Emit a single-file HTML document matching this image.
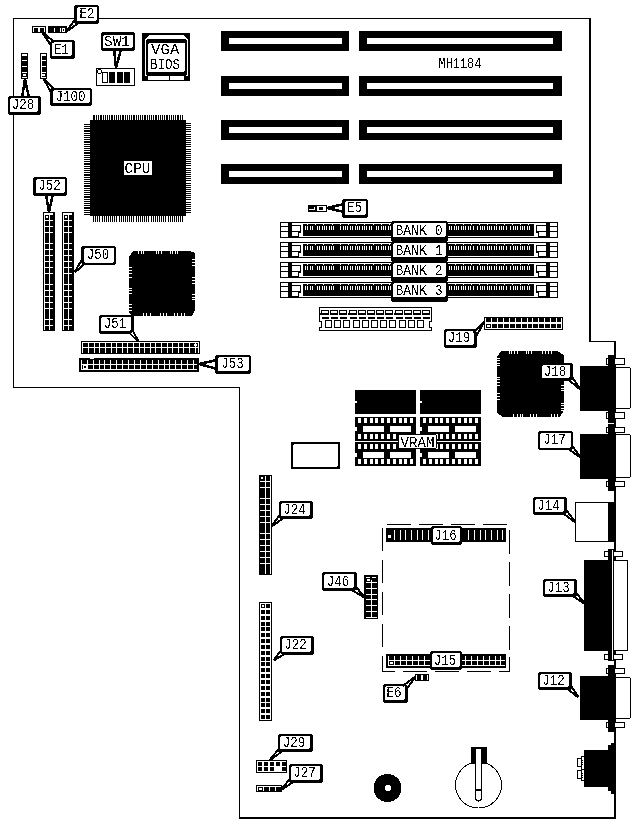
<!DOCTYPE html>
<html><head><meta charset="utf-8"><style>
html,body{margin:0;padding:0;background:#fff;overflow:hidden;}
svg{display:block;will-change:transform;}
text{font-family:"Liberation Mono",monospace;}
</style></head><body>
<svg width="634" height="823" viewBox="0 0 634 823" shape-rendering="crispEdges">
<defs><filter id="th" x="-10%" y="-20%" width="120%" height="140%"><feComponentTransfer><feFuncA type="discrete" tableValues="0 1"/></feComponentTransfer></filter></defs>
<rect x="0" y="0" width="634" height="823" fill="#fff"/>
<rect x="13" y="18" width="578" height="1" fill="#000" />
<rect x="13" y="18" width="1" height="370" fill="#000" />
<rect x="589" y="18" width="2" height="324" fill="#000" />
<rect x="589" y="341" width="27" height="1" fill="#000" />
<rect x="614" y="341" width="2" height="478" fill="#000" />
<rect x="13" y="387" width="227" height="1" fill="#000" />
<rect x="239" y="387" width="1" height="432" fill="#000" />
<rect x="239" y="817" width="377" height="2" fill="#000" />
<rect x="221" y="31" width="128" height="20" fill="#000" />
<rect x="229" y="38" width="113" height="6" fill="#fff" />
<rect x="359" y="31" width="203" height="20" fill="#000" />
<rect x="367" y="38" width="186" height="6" fill="#fff" />
<rect x="221" y="76" width="128" height="20" fill="#000" />
<rect x="229" y="83" width="113" height="6" fill="#fff" />
<rect x="359" y="76" width="203" height="20" fill="#000" />
<rect x="367" y="83" width="186" height="6" fill="#fff" />
<rect x="221" y="120" width="128" height="20" fill="#000" />
<rect x="229" y="127" width="113" height="6" fill="#fff" />
<rect x="359" y="120" width="203" height="20" fill="#000" />
<rect x="367" y="127" width="186" height="6" fill="#fff" />
<rect x="221" y="164" width="128" height="20" fill="#000" />
<rect x="229" y="171" width="113" height="6" fill="#fff" />
<rect x="359" y="164" width="203" height="20" fill="#000" />
<rect x="367" y="171" width="186" height="6" fill="#fff" />
<text x="438.5" y="67.5" font-size="14" text-anchor="start" fill="#000" filter="url(#th)" textLength="42.8" lengthAdjust="spacingAndGlyphs" >MH1184</text>
<rect x="142" y="33" width="48" height="48" fill="#000" />
<polygon points="149.00,35.00 183.00,35.00 188.00,39.00 188.00,76.00 145.00,76.00 145.00,39.00" fill="#fff" stroke="none" stroke-width="1" />
<rect x="146" y="39" width="41" height="37" rx="3" fill="#000"/>
<rect x="148" y="43" width="37" height="29" rx="2" fill="#fff"/>
<rect x="148" y="76" width="21" height="4" fill="#fff" />
<rect x="170" y="76" width="14" height="4" fill="#fff" />
<text x="151" y="54" font-size="15" text-anchor="start" fill="#000" filter="url(#th)" textLength="28.4" lengthAdjust="spacingAndGlyphs" >VGA</text>
<text x="150" y="69" font-size="15" text-anchor="start" fill="#000" filter="url(#th)" textLength="30" lengthAdjust="spacingAndGlyphs" >BIOS</text>
<rect x="96" y="68" width="39" height="18" fill="#000" />
<rect x="97" y="69" width="37" height="16" fill="#fff" />
<circle cx="99.5" cy="71.5" r="2" fill="#fff" stroke="#000" stroke-width="1"/>
<rect x="102" y="72" width="6" height="11" fill="#000" />
<rect x="103" y="73" width="4" height="9" fill="#fff" />
<rect x="109" y="72" width="6" height="11" fill="#000" />
<rect x="117" y="72" width="6" height="11" fill="#000" />
<rect x="124" y="72" width="6" height="11" fill="#000" />
<rect x="32" y="26" width="14" height="7" fill="#000" />
<rect x="33" y="27" width="12" height="5" fill="#fff" />
<rect x="34" y="28" width="4" height="4" fill="#000" />
<rect x="40" y="28" width="4" height="4" fill="#000" />
<rect x="48" y="26" width="19" height="7" fill="#000" />
<rect x="54" y="28" width="1" height="4" fill="#fff" />
<rect x="60" y="28" width="1" height="4" fill="#fff" />
<rect x="62" y="28" width="3" height="4" fill="#fff" />
<rect x="63" y="29" width="1" height="2" fill="#000" />
<rect x="21" y="53" width="7" height="26" fill="#000" />
<rect x="22" y="54" width="5" height="24" fill="#000" />
<rect x="22" y="54" width="5" height="2" fill="#fff" />
<rect x="22" y="60" width="5" height="1" fill="#fff" />
<rect x="22" y="66" width="5" height="1" fill="#fff" />
<rect x="22" y="72" width="5" height="1" fill="#fff" />
<rect x="23" y="74" width="3" height="2" fill="#fff" />
<rect x="22" y="77" width="5" height="1" fill="#fff" />
<rect x="40" y="53" width="7" height="26" fill="#000" />
<rect x="41" y="54" width="5" height="24" fill="#000" />
<rect x="41" y="54" width="5" height="2" fill="#fff" />
<rect x="41" y="60" width="5" height="1" fill="#fff" />
<rect x="41" y="66" width="5" height="1" fill="#fff" />
<rect x="41" y="72" width="5" height="1" fill="#fff" />
<rect x="42" y="74" width="3" height="2" fill="#fff" />
<rect x="41" y="77" width="5" height="1" fill="#fff" />
<rect x="41" y="54" width="1" height="24" fill="#fff" />
<rect x="90" y="120" width="96" height="96" fill="#000" />
<rect x="93" y="115" width="90" height="5" fill="#000" />
<rect x="95" y="115" width="1" height="5" fill="#fff" />
<rect x="97" y="115" width="1" height="5" fill="#fff" />
<rect x="99" y="115" width="1" height="5" fill="#fff" />
<rect x="102" y="115" width="1" height="5" fill="#fff" />
<rect x="104" y="115" width="1" height="5" fill="#fff" />
<rect x="106" y="115" width="1" height="5" fill="#fff" />
<rect x="108" y="115" width="1" height="5" fill="#fff" />
<rect x="110" y="115" width="1" height="5" fill="#fff" />
<rect x="113" y="115" width="1" height="5" fill="#fff" />
<rect x="115" y="115" width="1" height="5" fill="#fff" />
<rect x="117" y="115" width="1" height="5" fill="#fff" />
<rect x="119" y="115" width="1" height="5" fill="#fff" />
<rect x="121" y="115" width="1" height="5" fill="#fff" />
<rect x="124" y="115" width="1" height="5" fill="#fff" />
<rect x="126" y="115" width="1" height="5" fill="#fff" />
<rect x="128" y="115" width="1" height="5" fill="#fff" />
<rect x="130" y="115" width="1" height="5" fill="#fff" />
<rect x="132" y="115" width="1" height="5" fill="#fff" />
<rect x="135" y="115" width="1" height="5" fill="#fff" />
<rect x="137" y="115" width="1" height="5" fill="#fff" />
<rect x="139" y="115" width="1" height="5" fill="#fff" />
<rect x="141" y="115" width="1" height="5" fill="#fff" />
<rect x="143" y="115" width="1" height="5" fill="#fff" />
<rect x="146" y="115" width="1" height="5" fill="#fff" />
<rect x="148" y="115" width="1" height="5" fill="#fff" />
<rect x="150" y="115" width="1" height="5" fill="#fff" />
<rect x="152" y="115" width="1" height="5" fill="#fff" />
<rect x="154" y="115" width="1" height="5" fill="#fff" />
<rect x="157" y="115" width="1" height="5" fill="#fff" />
<rect x="159" y="115" width="1" height="5" fill="#fff" />
<rect x="161" y="115" width="1" height="5" fill="#fff" />
<rect x="163" y="115" width="1" height="5" fill="#fff" />
<rect x="165" y="115" width="1" height="5" fill="#fff" />
<rect x="168" y="115" width="1" height="5" fill="#fff" />
<rect x="170" y="115" width="1" height="5" fill="#fff" />
<rect x="172" y="115" width="1" height="5" fill="#fff" />
<rect x="174" y="115" width="1" height="5" fill="#fff" />
<rect x="176" y="115" width="1" height="5" fill="#fff" />
<rect x="179" y="115" width="1" height="5" fill="#fff" />
<rect x="181" y="115" width="1" height="5" fill="#fff" />
<rect x="84" y="124" width="6" height="91" fill="#000" />
<rect x="84" y="125" width="6" height="1" fill="#fff" />
<rect x="84" y="127" width="6" height="1" fill="#fff" />
<rect x="84" y="129" width="6" height="1" fill="#fff" />
<rect x="84" y="132" width="6" height="1" fill="#fff" />
<rect x="84" y="134" width="6" height="1" fill="#fff" />
<rect x="84" y="136" width="6" height="1" fill="#fff" />
<rect x="84" y="138" width="6" height="1" fill="#fff" />
<rect x="84" y="140" width="6" height="1" fill="#fff" />
<rect x="84" y="143" width="6" height="1" fill="#fff" />
<rect x="84" y="145" width="6" height="1" fill="#fff" />
<rect x="84" y="147" width="6" height="1" fill="#fff" />
<rect x="84" y="149" width="6" height="1" fill="#fff" />
<rect x="84" y="151" width="6" height="1" fill="#fff" />
<rect x="84" y="154" width="6" height="1" fill="#fff" />
<rect x="84" y="156" width="6" height="1" fill="#fff" />
<rect x="84" y="158" width="6" height="1" fill="#fff" />
<rect x="84" y="160" width="6" height="1" fill="#fff" />
<rect x="84" y="162" width="6" height="1" fill="#fff" />
<rect x="84" y="165" width="6" height="1" fill="#fff" />
<rect x="84" y="167" width="6" height="1" fill="#fff" />
<rect x="84" y="169" width="6" height="1" fill="#fff" />
<rect x="84" y="171" width="6" height="1" fill="#fff" />
<rect x="84" y="173" width="6" height="1" fill="#fff" />
<rect x="84" y="176" width="6" height="1" fill="#fff" />
<rect x="84" y="178" width="6" height="1" fill="#fff" />
<rect x="84" y="180" width="6" height="1" fill="#fff" />
<rect x="84" y="182" width="6" height="1" fill="#fff" />
<rect x="84" y="184" width="6" height="1" fill="#fff" />
<rect x="84" y="187" width="6" height="1" fill="#fff" />
<rect x="84" y="189" width="6" height="1" fill="#fff" />
<rect x="84" y="191" width="6" height="1" fill="#fff" />
<rect x="84" y="193" width="6" height="1" fill="#fff" />
<rect x="84" y="195" width="6" height="1" fill="#fff" />
<rect x="84" y="198" width="6" height="1" fill="#fff" />
<rect x="84" y="200" width="6" height="1" fill="#fff" />
<rect x="84" y="202" width="6" height="1" fill="#fff" />
<rect x="84" y="204" width="6" height="1" fill="#fff" />
<rect x="84" y="206" width="6" height="1" fill="#fff" />
<rect x="84" y="209" width="6" height="1" fill="#fff" />
<rect x="84" y="211" width="6" height="1" fill="#fff" />
<rect x="84" y="213" width="6" height="1" fill="#fff" />
<rect x="186" y="123" width="5" height="1" fill="#000" />
<rect x="186" y="125" width="5" height="1" fill="#000" />
<rect x="186" y="127" width="5" height="1" fill="#000" />
<rect x="186" y="129" width="5" height="1" fill="#000" />
<rect x="186" y="131" width="5" height="1" fill="#000" />
<rect x="186" y="134" width="5" height="1" fill="#000" />
<rect x="186" y="136" width="5" height="1" fill="#000" />
<rect x="186" y="138" width="5" height="1" fill="#000" />
<rect x="186" y="140" width="5" height="1" fill="#000" />
<rect x="186" y="142" width="5" height="1" fill="#000" />
<rect x="186" y="144" width="5" height="1" fill="#000" />
<rect x="186" y="146" width="5" height="1" fill="#000" />
<rect x="186" y="149" width="5" height="1" fill="#000" />
<rect x="186" y="151" width="5" height="1" fill="#000" />
<rect x="186" y="153" width="5" height="1" fill="#000" />
<rect x="186" y="155" width="5" height="1" fill="#000" />
<rect x="186" y="157" width="5" height="1" fill="#000" />
<rect x="186" y="159" width="5" height="1" fill="#000" />
<rect x="186" y="161" width="5" height="1" fill="#000" />
<rect x="186" y="163" width="5" height="1" fill="#000" />
<rect x="186" y="165" width="5" height="1" fill="#000" />
<rect x="186" y="168" width="5" height="1" fill="#000" />
<rect x="186" y="170" width="5" height="1" fill="#000" />
<rect x="186" y="172" width="5" height="1" fill="#000" />
<rect x="186" y="174" width="5" height="1" fill="#000" />
<rect x="186" y="176" width="5" height="1" fill="#000" />
<rect x="186" y="178" width="5" height="1" fill="#000" />
<rect x="186" y="180" width="5" height="1" fill="#000" />
<rect x="186" y="183" width="5" height="1" fill="#000" />
<rect x="186" y="185" width="5" height="1" fill="#000" />
<rect x="186" y="187" width="5" height="1" fill="#000" />
<rect x="186" y="189" width="5" height="1" fill="#000" />
<rect x="186" y="191" width="5" height="1" fill="#000" />
<rect x="186" y="193" width="5" height="1" fill="#000" />
<rect x="186" y="195" width="5" height="1" fill="#000" />
<rect x="186" y="197" width="5" height="1" fill="#000" />
<rect x="186" y="199" width="5" height="1" fill="#000" />
<rect x="186" y="202" width="5" height="1" fill="#000" />
<rect x="186" y="204" width="5" height="1" fill="#000" />
<rect x="186" y="206" width="5" height="1" fill="#000" />
<rect x="186" y="208" width="5" height="1" fill="#000" />
<rect x="186" y="210" width="5" height="1" fill="#000" />
<rect x="186" y="212" width="5" height="1" fill="#000" />
<rect x="93" y="216" width="1" height="6" fill="#000" />
<rect x="95" y="216" width="1" height="6" fill="#000" />
<rect x="97" y="216" width="1" height="6" fill="#000" />
<rect x="99" y="216" width="1" height="6" fill="#000" />
<rect x="102" y="216" width="1" height="6" fill="#000" />
<rect x="104" y="216" width="1" height="6" fill="#000" />
<rect x="106" y="216" width="1" height="6" fill="#000" />
<rect x="108" y="216" width="1" height="6" fill="#000" />
<rect x="110" y="216" width="1" height="6" fill="#000" />
<rect x="112" y="216" width="1" height="6" fill="#000" />
<rect x="114" y="216" width="1" height="6" fill="#000" />
<rect x="116" y="216" width="1" height="6" fill="#000" />
<rect x="119" y="216" width="1" height="6" fill="#000" />
<rect x="121" y="216" width="1" height="6" fill="#000" />
<rect x="123" y="216" width="1" height="6" fill="#000" />
<rect x="125" y="216" width="1" height="6" fill="#000" />
<rect x="127" y="216" width="1" height="6" fill="#000" />
<rect x="129" y="216" width="1" height="6" fill="#000" />
<rect x="131" y="216" width="1" height="6" fill="#000" />
<rect x="133" y="216" width="1" height="6" fill="#000" />
<rect x="136" y="216" width="1" height="6" fill="#000" />
<rect x="138" y="216" width="1" height="6" fill="#000" />
<rect x="140" y="216" width="1" height="6" fill="#000" />
<rect x="142" y="216" width="1" height="6" fill="#000" />
<rect x="144" y="216" width="1" height="6" fill="#000" />
<rect x="146" y="216" width="1" height="6" fill="#000" />
<rect x="148" y="216" width="1" height="6" fill="#000" />
<rect x="151" y="216" width="1" height="6" fill="#000" />
<rect x="153" y="216" width="1" height="6" fill="#000" />
<rect x="155" y="216" width="1" height="6" fill="#000" />
<rect x="157" y="216" width="1" height="6" fill="#000" />
<rect x="159" y="216" width="1" height="6" fill="#000" />
<rect x="161" y="216" width="1" height="6" fill="#000" />
<rect x="163" y="216" width="1" height="6" fill="#000" />
<rect x="165" y="216" width="1" height="6" fill="#000" />
<rect x="168" y="216" width="1" height="6" fill="#000" />
<rect x="170" y="216" width="1" height="6" fill="#000" />
<rect x="172" y="216" width="1" height="6" fill="#000" />
<rect x="174" y="216" width="1" height="6" fill="#000" />
<rect x="176" y="216" width="1" height="6" fill="#000" />
<rect x="178" y="216" width="1" height="6" fill="#000" />
<rect x="180" y="216" width="1" height="6" fill="#000" />
<rect x="182" y="216" width="1" height="6" fill="#000" />
<rect x="124" y="161" width="28" height="14" fill="#fff" />
<text x="124.5" y="173" font-size="15" text-anchor="start" fill="#000" filter="url(#th)" textLength="26" lengthAdjust="spacingAndGlyphs" >CPU</text>
<rect x="43" y="212" width="12" height="119" fill="#000" />
<rect x="44" y="213" width="10" height="117" fill="#fff" />
<rect x="45" y="215" width="4" height="5" fill="#000" />
<rect x="50" y="215" width="4" height="5" fill="#000" />
<rect x="45" y="221" width="4" height="5" fill="#000" />
<rect x="50" y="221" width="4" height="5" fill="#000" />
<rect x="45" y="227" width="4" height="5" fill="#000" />
<rect x="50" y="227" width="4" height="5" fill="#000" />
<rect x="45" y="233" width="4" height="5" fill="#000" />
<rect x="50" y="233" width="4" height="5" fill="#000" />
<rect x="45" y="238" width="4" height="5" fill="#000" />
<rect x="50" y="238" width="4" height="5" fill="#000" />
<rect x="45" y="244" width="4" height="5" fill="#000" />
<rect x="50" y="244" width="4" height="5" fill="#000" />
<rect x="45" y="250" width="4" height="5" fill="#000" />
<rect x="50" y="250" width="4" height="5" fill="#000" />
<rect x="45" y="256" width="4" height="5" fill="#000" />
<rect x="50" y="256" width="4" height="5" fill="#000" />
<rect x="45" y="262" width="4" height="5" fill="#000" />
<rect x="50" y="262" width="4" height="5" fill="#000" />
<rect x="45" y="268" width="4" height="5" fill="#000" />
<rect x="50" y="268" width="4" height="5" fill="#000" />
<rect x="45" y="274" width="4" height="5" fill="#000" />
<rect x="50" y="274" width="4" height="5" fill="#000" />
<rect x="45" y="279" width="4" height="5" fill="#000" />
<rect x="50" y="279" width="4" height="5" fill="#000" />
<rect x="45" y="285" width="4" height="5" fill="#000" />
<rect x="50" y="285" width="4" height="5" fill="#000" />
<rect x="45" y="291" width="4" height="5" fill="#000" />
<rect x="50" y="291" width="4" height="5" fill="#000" />
<rect x="45" y="297" width="4" height="5" fill="#000" />
<rect x="50" y="297" width="4" height="5" fill="#000" />
<rect x="45" y="303" width="4" height="5" fill="#000" />
<rect x="50" y="303" width="4" height="5" fill="#000" />
<rect x="45" y="309" width="4" height="5" fill="#000" />
<rect x="50" y="309" width="4" height="5" fill="#000" />
<rect x="45" y="314" width="4" height="5" fill="#000" />
<rect x="50" y="314" width="4" height="5" fill="#000" />
<rect x="45" y="320" width="4" height="5" fill="#000" />
<rect x="50" y="320" width="4" height="5" fill="#000" />
<rect x="45" y="326" width="4" height="4" fill="#000" />
<rect x="50" y="326" width="4" height="4" fill="#000" />
<rect x="53" y="213" width="1" height="117" fill="#000" />
<rect x="54" y="213" width="0" height="117" fill="#000" />
<rect x="46" y="216" width="2" height="2" fill="#fff" />
<rect x="62" y="212" width="12" height="119" fill="#000" />
<rect x="63" y="213" width="10" height="117" fill="#fff" />
<rect x="64" y="215" width="4" height="5" fill="#000" />
<rect x="69" y="215" width="4" height="5" fill="#000" />
<rect x="64" y="221" width="4" height="5" fill="#000" />
<rect x="69" y="221" width="4" height="5" fill="#000" />
<rect x="64" y="227" width="4" height="5" fill="#000" />
<rect x="69" y="227" width="4" height="5" fill="#000" />
<rect x="64" y="233" width="4" height="5" fill="#000" />
<rect x="69" y="233" width="4" height="5" fill="#000" />
<rect x="64" y="238" width="4" height="5" fill="#000" />
<rect x="69" y="238" width="4" height="5" fill="#000" />
<rect x="64" y="244" width="4" height="5" fill="#000" />
<rect x="69" y="244" width="4" height="5" fill="#000" />
<rect x="64" y="250" width="4" height="5" fill="#000" />
<rect x="69" y="250" width="4" height="5" fill="#000" />
<rect x="64" y="256" width="4" height="5" fill="#000" />
<rect x="69" y="256" width="4" height="5" fill="#000" />
<rect x="64" y="262" width="4" height="5" fill="#000" />
<rect x="69" y="262" width="4" height="5" fill="#000" />
<rect x="64" y="268" width="4" height="5" fill="#000" />
<rect x="69" y="268" width="4" height="5" fill="#000" />
<rect x="64" y="274" width="4" height="5" fill="#000" />
<rect x="69" y="274" width="4" height="5" fill="#000" />
<rect x="64" y="279" width="4" height="5" fill="#000" />
<rect x="69" y="279" width="4" height="5" fill="#000" />
<rect x="64" y="285" width="4" height="5" fill="#000" />
<rect x="69" y="285" width="4" height="5" fill="#000" />
<rect x="64" y="291" width="4" height="5" fill="#000" />
<rect x="69" y="291" width="4" height="5" fill="#000" />
<rect x="64" y="297" width="4" height="5" fill="#000" />
<rect x="69" y="297" width="4" height="5" fill="#000" />
<rect x="64" y="303" width="4" height="5" fill="#000" />
<rect x="69" y="303" width="4" height="5" fill="#000" />
<rect x="64" y="309" width="4" height="5" fill="#000" />
<rect x="69" y="309" width="4" height="5" fill="#000" />
<rect x="64" y="314" width="4" height="5" fill="#000" />
<rect x="69" y="314" width="4" height="5" fill="#000" />
<rect x="64" y="320" width="4" height="5" fill="#000" />
<rect x="69" y="320" width="4" height="5" fill="#000" />
<rect x="64" y="326" width="4" height="4" fill="#000" />
<rect x="69" y="326" width="4" height="4" fill="#000" />
<rect x="72" y="213" width="1" height="117" fill="#000" />
<rect x="73" y="213" width="0" height="117" fill="#000" />
<rect x="65" y="216" width="2" height="2" fill="#fff" />
<polygon points="133.00,251.00 189.00,251.00 195.00,253.00 195.00,310.00 192.00,316.00 132.00,316.00 129.00,313.00 129.00,257.00" fill="#000" stroke="none" stroke-width="1" />
<rect x="138" y="251" width="1" height="3" fill="#fff" />
<rect x="141" y="251" width="1" height="3" fill="#fff" />
<rect x="143" y="251" width="1" height="3" fill="#fff" />
<rect x="156" y="251" width="1" height="3" fill="#fff" />
<rect x="158" y="251" width="1" height="3" fill="#fff" />
<rect x="161" y="251" width="1" height="3" fill="#fff" />
<rect x="170" y="251" width="1" height="3" fill="#fff" />
<rect x="172" y="251" width="1" height="3" fill="#fff" />
<rect x="175" y="251" width="1" height="3" fill="#fff" />
<rect x="177" y="251" width="1" height="3" fill="#fff" />
<rect x="143" y="313" width="1" height="3" fill="#fff" />
<rect x="146" y="313" width="1" height="3" fill="#fff" />
<rect x="150" y="313" width="1" height="3" fill="#fff" />
<rect x="160" y="313" width="1" height="3" fill="#fff" />
<rect x="163" y="313" width="1" height="3" fill="#fff" />
<rect x="166" y="313" width="1" height="3" fill="#fff" />
<rect x="174" y="313" width="1" height="3" fill="#fff" />
<rect x="177" y="313" width="1" height="3" fill="#fff" />
<rect x="181" y="313" width="1" height="3" fill="#fff" />
<rect x="184" y="313" width="1" height="3" fill="#fff" />
<rect x="129" y="267" width="3" height="1" fill="#fff" />
<rect x="129" y="270" width="3" height="1" fill="#fff" />
<rect x="129" y="273" width="3" height="1" fill="#fff" />
<rect x="129" y="277" width="3" height="1" fill="#fff" />
<rect x="129" y="288" width="3" height="1" fill="#fff" />
<rect x="129" y="290" width="3" height="1" fill="#fff" />
<rect x="129" y="293" width="3" height="1" fill="#fff" />
<rect x="129" y="304" width="3" height="1" fill="#fff" />
<rect x="129" y="307" width="3" height="1" fill="#fff" />
<rect x="129" y="310" width="3" height="1" fill="#fff" />
<rect x="192" y="259" width="3" height="1" fill="#fff" />
<rect x="192" y="262" width="3" height="1" fill="#fff" />
<rect x="192" y="265" width="3" height="1" fill="#fff" />
<rect x="192" y="277" width="3" height="1" fill="#fff" />
<rect x="192" y="280" width="3" height="1" fill="#fff" />
<rect x="192" y="283" width="3" height="1" fill="#fff" />
<rect x="192" y="294" width="3" height="1" fill="#fff" />
<rect x="192" y="297" width="3" height="1" fill="#fff" />
<rect x="192" y="299" width="3" height="1" fill="#fff" />
<rect x="81" y="341" width="119" height="13" fill="#000" />
<rect x="82" y="342" width="117" height="11" fill="#fff" />
<rect x="83" y="343" width="115" height="10" fill="#000" />
<rect x="83" y="347" width="115" height="1" fill="#fff" />
<rect x="88" y="343" width="1" height="10" fill="#fff" />
<rect x="94" y="343" width="1" height="10" fill="#fff" />
<rect x="99" y="343" width="1" height="10" fill="#fff" />
<rect x="105" y="343" width="1" height="10" fill="#fff" />
<rect x="111" y="343" width="1" height="10" fill="#fff" />
<rect x="116" y="343" width="1" height="10" fill="#fff" />
<rect x="122" y="343" width="1" height="10" fill="#fff" />
<rect x="127" y="343" width="1" height="10" fill="#fff" />
<rect x="133" y="343" width="1" height="10" fill="#fff" />
<rect x="139" y="343" width="1" height="10" fill="#fff" />
<rect x="144" y="343" width="1" height="10" fill="#fff" />
<rect x="150" y="343" width="1" height="10" fill="#fff" />
<rect x="155" y="343" width="1" height="10" fill="#fff" />
<rect x="161" y="343" width="1" height="10" fill="#fff" />
<rect x="167" y="343" width="1" height="10" fill="#fff" />
<rect x="172" y="343" width="1" height="10" fill="#fff" />
<rect x="178" y="343" width="1" height="10" fill="#fff" />
<rect x="183" y="343" width="1" height="10" fill="#fff" />
<rect x="189" y="343" width="1" height="10" fill="#fff" />
<rect x="195" y="343" width="1" height="10" fill="#fff" />
<rect x="194" y="344" width="3" height="2" fill="#fff" />
<rect x="79" y="358" width="120" height="14" fill="#000" />
<rect x="81" y="360" width="116" height="10" fill="#fff" />
<rect x="82" y="360" width="115" height="9" fill="#000" />
<rect x="82" y="364" width="115" height="1" fill="#fff" />
<rect x="87" y="360" width="1" height="9" fill="#fff" />
<rect x="93" y="360" width="1" height="9" fill="#fff" />
<rect x="99" y="360" width="1" height="9" fill="#fff" />
<rect x="104" y="360" width="1" height="9" fill="#fff" />
<rect x="110" y="360" width="1" height="9" fill="#fff" />
<rect x="116" y="360" width="1" height="9" fill="#fff" />
<rect x="122" y="360" width="1" height="9" fill="#fff" />
<rect x="128" y="360" width="1" height="9" fill="#fff" />
<rect x="134" y="360" width="1" height="9" fill="#fff" />
<rect x="140" y="360" width="1" height="9" fill="#fff" />
<rect x="146" y="360" width="1" height="9" fill="#fff" />
<rect x="152" y="360" width="1" height="9" fill="#fff" />
<rect x="158" y="360" width="1" height="9" fill="#fff" />
<rect x="164" y="360" width="1" height="9" fill="#fff" />
<rect x="169" y="360" width="1" height="9" fill="#fff" />
<rect x="175" y="360" width="1" height="9" fill="#fff" />
<rect x="181" y="360" width="1" height="9" fill="#fff" />
<rect x="187" y="360" width="1" height="9" fill="#fff" />
<rect x="193" y="360" width="1" height="9" fill="#fff" />
<rect x="90" y="358" width="4" height="1" fill="#fff" />
<rect x="83" y="365" width="4" height="4" fill="#fff" />
<rect x="84" y="366" width="2" height="2" fill="#000" />
<rect x="81" y="361" width="1" height="3" fill="#fff" />
<rect x="308" y="205" width="19" height="7" fill="#000" />
<rect x="309" y="209" width="5" height="1" fill="#fff" />
<rect x="314" y="207" width="1" height="3" fill="#fff" />
<rect x="317" y="206" width="9" height="5" fill="#fff" />
<rect x="319" y="207" width="4" height="3" fill="#000" />
<rect x="280" y="222" width="278" height="16" fill="#000" />
<rect x="281" y="223" width="276" height="14" fill="#fff" />
<rect x="281" y="226" width="7" height="1" fill="#000" />
<rect x="281" y="231" width="7" height="1" fill="#000" />
<rect x="288" y="223" width="4" height="15" fill="#000" />
<rect x="292" y="225" width="9" height="8" fill="#000" />
<rect x="292" y="226" width="8" height="5" fill="#fff" />
<rect x="292" y="231" width="7" height="6" fill="#000" />
<rect x="292" y="232" width="6" height="4" fill="#fff" />
<rect x="550" y="226" width="7" height="1" fill="#000" />
<rect x="550" y="231" width="7" height="1" fill="#000" />
<rect x="546" y="223" width="4" height="15" fill="#000" />
<rect x="536" y="225" width="10" height="8" fill="#000" />
<rect x="537" y="226" width="9" height="5" fill="#fff" />
<rect x="538" y="231" width="8" height="6" fill="#000" />
<rect x="539" y="232" width="7" height="4" fill="#fff" />
<rect x="303" y="224" width="231" height="12" fill="#000" />
<rect x="305" y="226" width="1" height="4" fill="#fff" />
<rect x="307" y="226" width="1" height="4" fill="#fff" />
<rect x="310" y="226" width="1" height="4" fill="#fff" />
<rect x="312" y="226" width="1" height="4" fill="#fff" />
<rect x="317" y="226" width="1" height="4" fill="#fff" />
<rect x="319" y="226" width="1" height="4" fill="#fff" />
<rect x="322" y="226" width="1" height="4" fill="#fff" />
<rect x="324" y="226" width="1" height="4" fill="#fff" />
<rect x="326" y="226" width="1" height="4" fill="#fff" />
<rect x="329" y="226" width="1" height="4" fill="#fff" />
<rect x="331" y="226" width="1" height="4" fill="#fff" />
<rect x="333" y="226" width="1" height="4" fill="#fff" />
<rect x="340" y="226" width="1" height="4" fill="#fff" />
<rect x="343" y="226" width="1" height="4" fill="#fff" />
<rect x="345" y="226" width="1" height="4" fill="#fff" />
<rect x="347" y="226" width="1" height="4" fill="#fff" />
<rect x="350" y="226" width="1" height="4" fill="#fff" />
<rect x="352" y="226" width="1" height="4" fill="#fff" />
<rect x="355" y="226" width="1" height="4" fill="#fff" />
<rect x="357" y="226" width="1" height="4" fill="#fff" />
<rect x="359" y="226" width="1" height="4" fill="#fff" />
<rect x="362" y="226" width="1" height="4" fill="#fff" />
<rect x="364" y="226" width="1" height="4" fill="#fff" />
<rect x="366" y="226" width="1" height="4" fill="#fff" />
<rect x="369" y="226" width="1" height="4" fill="#fff" />
<rect x="371" y="226" width="1" height="4" fill="#fff" />
<rect x="376" y="226" width="1" height="4" fill="#fff" />
<rect x="378" y="226" width="1" height="4" fill="#fff" />
<rect x="381" y="226" width="1" height="4" fill="#fff" />
<rect x="383" y="226" width="1" height="4" fill="#fff" />
<rect x="385" y="226" width="1" height="4" fill="#fff" />
<rect x="388" y="226" width="1" height="4" fill="#fff" />
<rect x="390" y="226" width="1" height="4" fill="#fff" />
<rect x="392" y="226" width="1" height="4" fill="#fff" />
<rect x="395" y="226" width="1" height="4" fill="#fff" />
<rect x="397" y="226" width="1" height="4" fill="#fff" />
<rect x="399" y="226" width="1" height="4" fill="#fff" />
<rect x="402" y="226" width="1" height="4" fill="#fff" />
<rect x="404" y="226" width="1" height="4" fill="#fff" />
<rect x="406" y="226" width="1" height="4" fill="#fff" />
<rect x="411" y="226" width="1" height="4" fill="#fff" />
<rect x="414" y="226" width="1" height="4" fill="#fff" />
<rect x="416" y="226" width="1" height="4" fill="#fff" />
<rect x="418" y="226" width="1" height="4" fill="#fff" />
<rect x="421" y="226" width="1" height="4" fill="#fff" />
<rect x="423" y="226" width="1" height="4" fill="#fff" />
<rect x="425" y="226" width="1" height="4" fill="#fff" />
<rect x="428" y="226" width="1" height="4" fill="#fff" />
<rect x="430" y="226" width="1" height="4" fill="#fff" />
<rect x="432" y="226" width="1" height="4" fill="#fff" />
<rect x="435" y="226" width="1" height="4" fill="#fff" />
<rect x="437" y="226" width="1" height="4" fill="#fff" />
<rect x="440" y="226" width="1" height="4" fill="#fff" />
<rect x="444" y="226" width="1" height="4" fill="#fff" />
<rect x="447" y="226" width="1" height="4" fill="#fff" />
<rect x="449" y="226" width="1" height="4" fill="#fff" />
<rect x="451" y="226" width="1" height="4" fill="#fff" />
<rect x="454" y="226" width="1" height="4" fill="#fff" />
<rect x="456" y="226" width="1" height="4" fill="#fff" />
<rect x="458" y="226" width="1" height="4" fill="#fff" />
<rect x="461" y="226" width="1" height="4" fill="#fff" />
<rect x="463" y="226" width="1" height="4" fill="#fff" />
<rect x="465" y="226" width="1" height="4" fill="#fff" />
<rect x="468" y="226" width="1" height="4" fill="#fff" />
<rect x="470" y="226" width="1" height="4" fill="#fff" />
<rect x="473" y="226" width="1" height="4" fill="#fff" />
<rect x="477" y="226" width="1" height="4" fill="#fff" />
<rect x="480" y="226" width="1" height="4" fill="#fff" />
<rect x="482" y="226" width="1" height="4" fill="#fff" />
<rect x="484" y="226" width="1" height="4" fill="#fff" />
<rect x="487" y="226" width="1" height="4" fill="#fff" />
<rect x="489" y="226" width="1" height="4" fill="#fff" />
<rect x="491" y="226" width="1" height="4" fill="#fff" />
<rect x="494" y="226" width="1" height="4" fill="#fff" />
<rect x="496" y="226" width="1" height="4" fill="#fff" />
<rect x="499" y="226" width="1" height="4" fill="#fff" />
<rect x="501" y="226" width="1" height="4" fill="#fff" />
<rect x="503" y="226" width="1" height="4" fill="#fff" />
<rect x="506" y="226" width="1" height="4" fill="#fff" />
<rect x="510" y="226" width="1" height="4" fill="#fff" />
<rect x="513" y="226" width="1" height="4" fill="#fff" />
<rect x="515" y="226" width="1" height="4" fill="#fff" />
<rect x="517" y="226" width="1" height="4" fill="#fff" />
<rect x="520" y="226" width="1" height="4" fill="#fff" />
<rect x="522" y="226" width="1" height="4" fill="#fff" />
<rect x="524" y="226" width="1" height="4" fill="#fff" />
<rect x="527" y="226" width="1" height="4" fill="#fff" />
<rect x="529" y="226" width="1" height="4" fill="#fff" />
<rect x="307" y="224" width="1" height="1" fill="#fff" />
<rect x="315" y="224" width="1" height="1" fill="#fff" />
<rect x="323" y="224" width="1" height="1" fill="#fff" />
<rect x="332" y="224" width="1" height="1" fill="#fff" />
<rect x="340" y="224" width="1" height="1" fill="#fff" />
<rect x="348" y="224" width="1" height="1" fill="#fff" />
<rect x="356" y="224" width="1" height="1" fill="#fff" />
<rect x="364" y="224" width="1" height="1" fill="#fff" />
<rect x="373" y="224" width="1" height="1" fill="#fff" />
<rect x="381" y="224" width="1" height="1" fill="#fff" />
<rect x="389" y="224" width="1" height="1" fill="#fff" />
<rect x="397" y="224" width="1" height="1" fill="#fff" />
<rect x="405" y="224" width="1" height="1" fill="#fff" />
<rect x="414" y="224" width="1" height="1" fill="#fff" />
<rect x="422" y="224" width="1" height="1" fill="#fff" />
<rect x="430" y="224" width="1" height="1" fill="#fff" />
<rect x="438" y="224" width="1" height="1" fill="#fff" />
<rect x="446" y="224" width="1" height="1" fill="#fff" />
<rect x="455" y="224" width="1" height="1" fill="#fff" />
<rect x="463" y="224" width="1" height="1" fill="#fff" />
<rect x="471" y="224" width="1" height="1" fill="#fff" />
<rect x="479" y="224" width="1" height="1" fill="#fff" />
<rect x="487" y="224" width="1" height="1" fill="#fff" />
<rect x="496" y="224" width="1" height="1" fill="#fff" />
<rect x="504" y="224" width="1" height="1" fill="#fff" />
<rect x="512" y="224" width="1" height="1" fill="#fff" />
<rect x="520" y="224" width="1" height="1" fill="#fff" />
<rect x="528" y="224" width="1" height="1" fill="#fff" />
<rect x="280" y="242" width="278" height="16" fill="#000" />
<rect x="281" y="243" width="276" height="14" fill="#fff" />
<rect x="281" y="246" width="7" height="1" fill="#000" />
<rect x="281" y="251" width="7" height="1" fill="#000" />
<rect x="288" y="243" width="4" height="15" fill="#000" />
<rect x="292" y="245" width="9" height="8" fill="#000" />
<rect x="292" y="246" width="8" height="5" fill="#fff" />
<rect x="292" y="251" width="7" height="6" fill="#000" />
<rect x="292" y="252" width="6" height="4" fill="#fff" />
<rect x="550" y="246" width="7" height="1" fill="#000" />
<rect x="550" y="251" width="7" height="1" fill="#000" />
<rect x="546" y="243" width="4" height="15" fill="#000" />
<rect x="536" y="245" width="10" height="8" fill="#000" />
<rect x="537" y="246" width="9" height="5" fill="#fff" />
<rect x="538" y="251" width="8" height="6" fill="#000" />
<rect x="539" y="252" width="7" height="4" fill="#fff" />
<rect x="303" y="244" width="231" height="12" fill="#000" />
<rect x="305" y="246" width="1" height="4" fill="#fff" />
<rect x="307" y="246" width="1" height="4" fill="#fff" />
<rect x="310" y="246" width="1" height="4" fill="#fff" />
<rect x="312" y="246" width="1" height="4" fill="#fff" />
<rect x="317" y="246" width="1" height="4" fill="#fff" />
<rect x="319" y="246" width="1" height="4" fill="#fff" />
<rect x="322" y="246" width="1" height="4" fill="#fff" />
<rect x="324" y="246" width="1" height="4" fill="#fff" />
<rect x="326" y="246" width="1" height="4" fill="#fff" />
<rect x="329" y="246" width="1" height="4" fill="#fff" />
<rect x="331" y="246" width="1" height="4" fill="#fff" />
<rect x="333" y="246" width="1" height="4" fill="#fff" />
<rect x="340" y="246" width="1" height="4" fill="#fff" />
<rect x="343" y="246" width="1" height="4" fill="#fff" />
<rect x="345" y="246" width="1" height="4" fill="#fff" />
<rect x="347" y="246" width="1" height="4" fill="#fff" />
<rect x="350" y="246" width="1" height="4" fill="#fff" />
<rect x="352" y="246" width="1" height="4" fill="#fff" />
<rect x="355" y="246" width="1" height="4" fill="#fff" />
<rect x="357" y="246" width="1" height="4" fill="#fff" />
<rect x="359" y="246" width="1" height="4" fill="#fff" />
<rect x="362" y="246" width="1" height="4" fill="#fff" />
<rect x="364" y="246" width="1" height="4" fill="#fff" />
<rect x="366" y="246" width="1" height="4" fill="#fff" />
<rect x="369" y="246" width="1" height="4" fill="#fff" />
<rect x="371" y="246" width="1" height="4" fill="#fff" />
<rect x="376" y="246" width="1" height="4" fill="#fff" />
<rect x="378" y="246" width="1" height="4" fill="#fff" />
<rect x="381" y="246" width="1" height="4" fill="#fff" />
<rect x="383" y="246" width="1" height="4" fill="#fff" />
<rect x="385" y="246" width="1" height="4" fill="#fff" />
<rect x="388" y="246" width="1" height="4" fill="#fff" />
<rect x="390" y="246" width="1" height="4" fill="#fff" />
<rect x="392" y="246" width="1" height="4" fill="#fff" />
<rect x="395" y="246" width="1" height="4" fill="#fff" />
<rect x="397" y="246" width="1" height="4" fill="#fff" />
<rect x="399" y="246" width="1" height="4" fill="#fff" />
<rect x="402" y="246" width="1" height="4" fill="#fff" />
<rect x="404" y="246" width="1" height="4" fill="#fff" />
<rect x="406" y="246" width="1" height="4" fill="#fff" />
<rect x="411" y="246" width="1" height="4" fill="#fff" />
<rect x="414" y="246" width="1" height="4" fill="#fff" />
<rect x="416" y="246" width="1" height="4" fill="#fff" />
<rect x="418" y="246" width="1" height="4" fill="#fff" />
<rect x="421" y="246" width="1" height="4" fill="#fff" />
<rect x="423" y="246" width="1" height="4" fill="#fff" />
<rect x="425" y="246" width="1" height="4" fill="#fff" />
<rect x="428" y="246" width="1" height="4" fill="#fff" />
<rect x="430" y="246" width="1" height="4" fill="#fff" />
<rect x="432" y="246" width="1" height="4" fill="#fff" />
<rect x="435" y="246" width="1" height="4" fill="#fff" />
<rect x="437" y="246" width="1" height="4" fill="#fff" />
<rect x="440" y="246" width="1" height="4" fill="#fff" />
<rect x="444" y="246" width="1" height="4" fill="#fff" />
<rect x="447" y="246" width="1" height="4" fill="#fff" />
<rect x="449" y="246" width="1" height="4" fill="#fff" />
<rect x="451" y="246" width="1" height="4" fill="#fff" />
<rect x="454" y="246" width="1" height="4" fill="#fff" />
<rect x="456" y="246" width="1" height="4" fill="#fff" />
<rect x="458" y="246" width="1" height="4" fill="#fff" />
<rect x="461" y="246" width="1" height="4" fill="#fff" />
<rect x="463" y="246" width="1" height="4" fill="#fff" />
<rect x="465" y="246" width="1" height="4" fill="#fff" />
<rect x="468" y="246" width="1" height="4" fill="#fff" />
<rect x="470" y="246" width="1" height="4" fill="#fff" />
<rect x="473" y="246" width="1" height="4" fill="#fff" />
<rect x="477" y="246" width="1" height="4" fill="#fff" />
<rect x="480" y="246" width="1" height="4" fill="#fff" />
<rect x="482" y="246" width="1" height="4" fill="#fff" />
<rect x="484" y="246" width="1" height="4" fill="#fff" />
<rect x="487" y="246" width="1" height="4" fill="#fff" />
<rect x="489" y="246" width="1" height="4" fill="#fff" />
<rect x="491" y="246" width="1" height="4" fill="#fff" />
<rect x="494" y="246" width="1" height="4" fill="#fff" />
<rect x="496" y="246" width="1" height="4" fill="#fff" />
<rect x="499" y="246" width="1" height="4" fill="#fff" />
<rect x="501" y="246" width="1" height="4" fill="#fff" />
<rect x="503" y="246" width="1" height="4" fill="#fff" />
<rect x="506" y="246" width="1" height="4" fill="#fff" />
<rect x="510" y="246" width="1" height="4" fill="#fff" />
<rect x="513" y="246" width="1" height="4" fill="#fff" />
<rect x="515" y="246" width="1" height="4" fill="#fff" />
<rect x="517" y="246" width="1" height="4" fill="#fff" />
<rect x="520" y="246" width="1" height="4" fill="#fff" />
<rect x="522" y="246" width="1" height="4" fill="#fff" />
<rect x="524" y="246" width="1" height="4" fill="#fff" />
<rect x="527" y="246" width="1" height="4" fill="#fff" />
<rect x="529" y="246" width="1" height="4" fill="#fff" />
<rect x="307" y="244" width="1" height="1" fill="#fff" />
<rect x="315" y="244" width="1" height="1" fill="#fff" />
<rect x="323" y="244" width="1" height="1" fill="#fff" />
<rect x="332" y="244" width="1" height="1" fill="#fff" />
<rect x="340" y="244" width="1" height="1" fill="#fff" />
<rect x="348" y="244" width="1" height="1" fill="#fff" />
<rect x="356" y="244" width="1" height="1" fill="#fff" />
<rect x="364" y="244" width="1" height="1" fill="#fff" />
<rect x="373" y="244" width="1" height="1" fill="#fff" />
<rect x="381" y="244" width="1" height="1" fill="#fff" />
<rect x="389" y="244" width="1" height="1" fill="#fff" />
<rect x="397" y="244" width="1" height="1" fill="#fff" />
<rect x="405" y="244" width="1" height="1" fill="#fff" />
<rect x="414" y="244" width="1" height="1" fill="#fff" />
<rect x="422" y="244" width="1" height="1" fill="#fff" />
<rect x="430" y="244" width="1" height="1" fill="#fff" />
<rect x="438" y="244" width="1" height="1" fill="#fff" />
<rect x="446" y="244" width="1" height="1" fill="#fff" />
<rect x="455" y="244" width="1" height="1" fill="#fff" />
<rect x="463" y="244" width="1" height="1" fill="#fff" />
<rect x="471" y="244" width="1" height="1" fill="#fff" />
<rect x="479" y="244" width="1" height="1" fill="#fff" />
<rect x="487" y="244" width="1" height="1" fill="#fff" />
<rect x="496" y="244" width="1" height="1" fill="#fff" />
<rect x="504" y="244" width="1" height="1" fill="#fff" />
<rect x="512" y="244" width="1" height="1" fill="#fff" />
<rect x="520" y="244" width="1" height="1" fill="#fff" />
<rect x="528" y="244" width="1" height="1" fill="#fff" />
<rect x="280" y="262" width="278" height="16" fill="#000" />
<rect x="281" y="263" width="276" height="14" fill="#fff" />
<rect x="281" y="266" width="7" height="1" fill="#000" />
<rect x="281" y="271" width="7" height="1" fill="#000" />
<rect x="288" y="263" width="4" height="15" fill="#000" />
<rect x="292" y="265" width="9" height="8" fill="#000" />
<rect x="292" y="266" width="8" height="5" fill="#fff" />
<rect x="292" y="271" width="7" height="6" fill="#000" />
<rect x="292" y="272" width="6" height="4" fill="#fff" />
<rect x="550" y="266" width="7" height="1" fill="#000" />
<rect x="550" y="271" width="7" height="1" fill="#000" />
<rect x="546" y="263" width="4" height="15" fill="#000" />
<rect x="536" y="265" width="10" height="8" fill="#000" />
<rect x="537" y="266" width="9" height="5" fill="#fff" />
<rect x="538" y="271" width="8" height="6" fill="#000" />
<rect x="539" y="272" width="7" height="4" fill="#fff" />
<rect x="303" y="264" width="231" height="12" fill="#000" />
<rect x="305" y="266" width="1" height="4" fill="#fff" />
<rect x="307" y="266" width="1" height="4" fill="#fff" />
<rect x="310" y="266" width="1" height="4" fill="#fff" />
<rect x="312" y="266" width="1" height="4" fill="#fff" />
<rect x="317" y="266" width="1" height="4" fill="#fff" />
<rect x="319" y="266" width="1" height="4" fill="#fff" />
<rect x="322" y="266" width="1" height="4" fill="#fff" />
<rect x="324" y="266" width="1" height="4" fill="#fff" />
<rect x="326" y="266" width="1" height="4" fill="#fff" />
<rect x="329" y="266" width="1" height="4" fill="#fff" />
<rect x="331" y="266" width="1" height="4" fill="#fff" />
<rect x="333" y="266" width="1" height="4" fill="#fff" />
<rect x="340" y="266" width="1" height="4" fill="#fff" />
<rect x="343" y="266" width="1" height="4" fill="#fff" />
<rect x="345" y="266" width="1" height="4" fill="#fff" />
<rect x="347" y="266" width="1" height="4" fill="#fff" />
<rect x="350" y="266" width="1" height="4" fill="#fff" />
<rect x="352" y="266" width="1" height="4" fill="#fff" />
<rect x="355" y="266" width="1" height="4" fill="#fff" />
<rect x="357" y="266" width="1" height="4" fill="#fff" />
<rect x="359" y="266" width="1" height="4" fill="#fff" />
<rect x="362" y="266" width="1" height="4" fill="#fff" />
<rect x="364" y="266" width="1" height="4" fill="#fff" />
<rect x="366" y="266" width="1" height="4" fill="#fff" />
<rect x="369" y="266" width="1" height="4" fill="#fff" />
<rect x="371" y="266" width="1" height="4" fill="#fff" />
<rect x="376" y="266" width="1" height="4" fill="#fff" />
<rect x="378" y="266" width="1" height="4" fill="#fff" />
<rect x="381" y="266" width="1" height="4" fill="#fff" />
<rect x="383" y="266" width="1" height="4" fill="#fff" />
<rect x="385" y="266" width="1" height="4" fill="#fff" />
<rect x="388" y="266" width="1" height="4" fill="#fff" />
<rect x="390" y="266" width="1" height="4" fill="#fff" />
<rect x="392" y="266" width="1" height="4" fill="#fff" />
<rect x="395" y="266" width="1" height="4" fill="#fff" />
<rect x="397" y="266" width="1" height="4" fill="#fff" />
<rect x="399" y="266" width="1" height="4" fill="#fff" />
<rect x="402" y="266" width="1" height="4" fill="#fff" />
<rect x="404" y="266" width="1" height="4" fill="#fff" />
<rect x="406" y="266" width="1" height="4" fill="#fff" />
<rect x="411" y="266" width="1" height="4" fill="#fff" />
<rect x="414" y="266" width="1" height="4" fill="#fff" />
<rect x="416" y="266" width="1" height="4" fill="#fff" />
<rect x="418" y="266" width="1" height="4" fill="#fff" />
<rect x="421" y="266" width="1" height="4" fill="#fff" />
<rect x="423" y="266" width="1" height="4" fill="#fff" />
<rect x="425" y="266" width="1" height="4" fill="#fff" />
<rect x="428" y="266" width="1" height="4" fill="#fff" />
<rect x="430" y="266" width="1" height="4" fill="#fff" />
<rect x="432" y="266" width="1" height="4" fill="#fff" />
<rect x="435" y="266" width="1" height="4" fill="#fff" />
<rect x="437" y="266" width="1" height="4" fill="#fff" />
<rect x="440" y="266" width="1" height="4" fill="#fff" />
<rect x="444" y="266" width="1" height="4" fill="#fff" />
<rect x="447" y="266" width="1" height="4" fill="#fff" />
<rect x="449" y="266" width="1" height="4" fill="#fff" />
<rect x="451" y="266" width="1" height="4" fill="#fff" />
<rect x="454" y="266" width="1" height="4" fill="#fff" />
<rect x="456" y="266" width="1" height="4" fill="#fff" />
<rect x="458" y="266" width="1" height="4" fill="#fff" />
<rect x="461" y="266" width="1" height="4" fill="#fff" />
<rect x="463" y="266" width="1" height="4" fill="#fff" />
<rect x="465" y="266" width="1" height="4" fill="#fff" />
<rect x="468" y="266" width="1" height="4" fill="#fff" />
<rect x="470" y="266" width="1" height="4" fill="#fff" />
<rect x="473" y="266" width="1" height="4" fill="#fff" />
<rect x="477" y="266" width="1" height="4" fill="#fff" />
<rect x="480" y="266" width="1" height="4" fill="#fff" />
<rect x="482" y="266" width="1" height="4" fill="#fff" />
<rect x="484" y="266" width="1" height="4" fill="#fff" />
<rect x="487" y="266" width="1" height="4" fill="#fff" />
<rect x="489" y="266" width="1" height="4" fill="#fff" />
<rect x="491" y="266" width="1" height="4" fill="#fff" />
<rect x="494" y="266" width="1" height="4" fill="#fff" />
<rect x="496" y="266" width="1" height="4" fill="#fff" />
<rect x="499" y="266" width="1" height="4" fill="#fff" />
<rect x="501" y="266" width="1" height="4" fill="#fff" />
<rect x="503" y="266" width="1" height="4" fill="#fff" />
<rect x="506" y="266" width="1" height="4" fill="#fff" />
<rect x="510" y="266" width="1" height="4" fill="#fff" />
<rect x="513" y="266" width="1" height="4" fill="#fff" />
<rect x="515" y="266" width="1" height="4" fill="#fff" />
<rect x="517" y="266" width="1" height="4" fill="#fff" />
<rect x="520" y="266" width="1" height="4" fill="#fff" />
<rect x="522" y="266" width="1" height="4" fill="#fff" />
<rect x="524" y="266" width="1" height="4" fill="#fff" />
<rect x="527" y="266" width="1" height="4" fill="#fff" />
<rect x="529" y="266" width="1" height="4" fill="#fff" />
<rect x="307" y="264" width="1" height="1" fill="#fff" />
<rect x="315" y="264" width="1" height="1" fill="#fff" />
<rect x="323" y="264" width="1" height="1" fill="#fff" />
<rect x="332" y="264" width="1" height="1" fill="#fff" />
<rect x="340" y="264" width="1" height="1" fill="#fff" />
<rect x="348" y="264" width="1" height="1" fill="#fff" />
<rect x="356" y="264" width="1" height="1" fill="#fff" />
<rect x="364" y="264" width="1" height="1" fill="#fff" />
<rect x="373" y="264" width="1" height="1" fill="#fff" />
<rect x="381" y="264" width="1" height="1" fill="#fff" />
<rect x="389" y="264" width="1" height="1" fill="#fff" />
<rect x="397" y="264" width="1" height="1" fill="#fff" />
<rect x="405" y="264" width="1" height="1" fill="#fff" />
<rect x="414" y="264" width="1" height="1" fill="#fff" />
<rect x="422" y="264" width="1" height="1" fill="#fff" />
<rect x="430" y="264" width="1" height="1" fill="#fff" />
<rect x="438" y="264" width="1" height="1" fill="#fff" />
<rect x="446" y="264" width="1" height="1" fill="#fff" />
<rect x="455" y="264" width="1" height="1" fill="#fff" />
<rect x="463" y="264" width="1" height="1" fill="#fff" />
<rect x="471" y="264" width="1" height="1" fill="#fff" />
<rect x="479" y="264" width="1" height="1" fill="#fff" />
<rect x="487" y="264" width="1" height="1" fill="#fff" />
<rect x="496" y="264" width="1" height="1" fill="#fff" />
<rect x="504" y="264" width="1" height="1" fill="#fff" />
<rect x="512" y="264" width="1" height="1" fill="#fff" />
<rect x="520" y="264" width="1" height="1" fill="#fff" />
<rect x="528" y="264" width="1" height="1" fill="#fff" />
<rect x="280" y="282" width="278" height="16" fill="#000" />
<rect x="281" y="283" width="276" height="14" fill="#fff" />
<rect x="281" y="286" width="7" height="1" fill="#000" />
<rect x="281" y="291" width="7" height="1" fill="#000" />
<rect x="288" y="283" width="4" height="15" fill="#000" />
<rect x="292" y="285" width="9" height="8" fill="#000" />
<rect x="292" y="286" width="8" height="5" fill="#fff" />
<rect x="292" y="291" width="7" height="6" fill="#000" />
<rect x="292" y="292" width="6" height="4" fill="#fff" />
<rect x="550" y="286" width="7" height="1" fill="#000" />
<rect x="550" y="291" width="7" height="1" fill="#000" />
<rect x="546" y="283" width="4" height="15" fill="#000" />
<rect x="536" y="285" width="10" height="8" fill="#000" />
<rect x="537" y="286" width="9" height="5" fill="#fff" />
<rect x="538" y="291" width="8" height="6" fill="#000" />
<rect x="539" y="292" width="7" height="4" fill="#fff" />
<rect x="303" y="284" width="231" height="12" fill="#000" />
<rect x="305" y="286" width="1" height="4" fill="#fff" />
<rect x="307" y="286" width="1" height="4" fill="#fff" />
<rect x="310" y="286" width="1" height="4" fill="#fff" />
<rect x="312" y="286" width="1" height="4" fill="#fff" />
<rect x="317" y="286" width="1" height="4" fill="#fff" />
<rect x="319" y="286" width="1" height="4" fill="#fff" />
<rect x="322" y="286" width="1" height="4" fill="#fff" />
<rect x="324" y="286" width="1" height="4" fill="#fff" />
<rect x="326" y="286" width="1" height="4" fill="#fff" />
<rect x="329" y="286" width="1" height="4" fill="#fff" />
<rect x="331" y="286" width="1" height="4" fill="#fff" />
<rect x="333" y="286" width="1" height="4" fill="#fff" />
<rect x="340" y="286" width="1" height="4" fill="#fff" />
<rect x="343" y="286" width="1" height="4" fill="#fff" />
<rect x="345" y="286" width="1" height="4" fill="#fff" />
<rect x="347" y="286" width="1" height="4" fill="#fff" />
<rect x="350" y="286" width="1" height="4" fill="#fff" />
<rect x="352" y="286" width="1" height="4" fill="#fff" />
<rect x="355" y="286" width="1" height="4" fill="#fff" />
<rect x="357" y="286" width="1" height="4" fill="#fff" />
<rect x="359" y="286" width="1" height="4" fill="#fff" />
<rect x="362" y="286" width="1" height="4" fill="#fff" />
<rect x="364" y="286" width="1" height="4" fill="#fff" />
<rect x="366" y="286" width="1" height="4" fill="#fff" />
<rect x="369" y="286" width="1" height="4" fill="#fff" />
<rect x="371" y="286" width="1" height="4" fill="#fff" />
<rect x="376" y="286" width="1" height="4" fill="#fff" />
<rect x="378" y="286" width="1" height="4" fill="#fff" />
<rect x="381" y="286" width="1" height="4" fill="#fff" />
<rect x="383" y="286" width="1" height="4" fill="#fff" />
<rect x="385" y="286" width="1" height="4" fill="#fff" />
<rect x="388" y="286" width="1" height="4" fill="#fff" />
<rect x="390" y="286" width="1" height="4" fill="#fff" />
<rect x="392" y="286" width="1" height="4" fill="#fff" />
<rect x="395" y="286" width="1" height="4" fill="#fff" />
<rect x="397" y="286" width="1" height="4" fill="#fff" />
<rect x="399" y="286" width="1" height="4" fill="#fff" />
<rect x="402" y="286" width="1" height="4" fill="#fff" />
<rect x="404" y="286" width="1" height="4" fill="#fff" />
<rect x="406" y="286" width="1" height="4" fill="#fff" />
<rect x="411" y="286" width="1" height="4" fill="#fff" />
<rect x="414" y="286" width="1" height="4" fill="#fff" />
<rect x="416" y="286" width="1" height="4" fill="#fff" />
<rect x="418" y="286" width="1" height="4" fill="#fff" />
<rect x="421" y="286" width="1" height="4" fill="#fff" />
<rect x="423" y="286" width="1" height="4" fill="#fff" />
<rect x="425" y="286" width="1" height="4" fill="#fff" />
<rect x="428" y="286" width="1" height="4" fill="#fff" />
<rect x="430" y="286" width="1" height="4" fill="#fff" />
<rect x="432" y="286" width="1" height="4" fill="#fff" />
<rect x="435" y="286" width="1" height="4" fill="#fff" />
<rect x="437" y="286" width="1" height="4" fill="#fff" />
<rect x="440" y="286" width="1" height="4" fill="#fff" />
<rect x="444" y="286" width="1" height="4" fill="#fff" />
<rect x="447" y="286" width="1" height="4" fill="#fff" />
<rect x="449" y="286" width="1" height="4" fill="#fff" />
<rect x="451" y="286" width="1" height="4" fill="#fff" />
<rect x="454" y="286" width="1" height="4" fill="#fff" />
<rect x="456" y="286" width="1" height="4" fill="#fff" />
<rect x="458" y="286" width="1" height="4" fill="#fff" />
<rect x="461" y="286" width="1" height="4" fill="#fff" />
<rect x="463" y="286" width="1" height="4" fill="#fff" />
<rect x="465" y="286" width="1" height="4" fill="#fff" />
<rect x="468" y="286" width="1" height="4" fill="#fff" />
<rect x="470" y="286" width="1" height="4" fill="#fff" />
<rect x="473" y="286" width="1" height="4" fill="#fff" />
<rect x="477" y="286" width="1" height="4" fill="#fff" />
<rect x="480" y="286" width="1" height="4" fill="#fff" />
<rect x="482" y="286" width="1" height="4" fill="#fff" />
<rect x="484" y="286" width="1" height="4" fill="#fff" />
<rect x="487" y="286" width="1" height="4" fill="#fff" />
<rect x="489" y="286" width="1" height="4" fill="#fff" />
<rect x="491" y="286" width="1" height="4" fill="#fff" />
<rect x="494" y="286" width="1" height="4" fill="#fff" />
<rect x="496" y="286" width="1" height="4" fill="#fff" />
<rect x="499" y="286" width="1" height="4" fill="#fff" />
<rect x="501" y="286" width="1" height="4" fill="#fff" />
<rect x="503" y="286" width="1" height="4" fill="#fff" />
<rect x="506" y="286" width="1" height="4" fill="#fff" />
<rect x="510" y="286" width="1" height="4" fill="#fff" />
<rect x="513" y="286" width="1" height="4" fill="#fff" />
<rect x="515" y="286" width="1" height="4" fill="#fff" />
<rect x="517" y="286" width="1" height="4" fill="#fff" />
<rect x="520" y="286" width="1" height="4" fill="#fff" />
<rect x="522" y="286" width="1" height="4" fill="#fff" />
<rect x="524" y="286" width="1" height="4" fill="#fff" />
<rect x="527" y="286" width="1" height="4" fill="#fff" />
<rect x="529" y="286" width="1" height="4" fill="#fff" />
<rect x="307" y="284" width="1" height="1" fill="#fff" />
<rect x="315" y="284" width="1" height="1" fill="#fff" />
<rect x="323" y="284" width="1" height="1" fill="#fff" />
<rect x="332" y="284" width="1" height="1" fill="#fff" />
<rect x="340" y="284" width="1" height="1" fill="#fff" />
<rect x="348" y="284" width="1" height="1" fill="#fff" />
<rect x="356" y="284" width="1" height="1" fill="#fff" />
<rect x="364" y="284" width="1" height="1" fill="#fff" />
<rect x="373" y="284" width="1" height="1" fill="#fff" />
<rect x="381" y="284" width="1" height="1" fill="#fff" />
<rect x="389" y="284" width="1" height="1" fill="#fff" />
<rect x="397" y="284" width="1" height="1" fill="#fff" />
<rect x="405" y="284" width="1" height="1" fill="#fff" />
<rect x="414" y="284" width="1" height="1" fill="#fff" />
<rect x="422" y="284" width="1" height="1" fill="#fff" />
<rect x="430" y="284" width="1" height="1" fill="#fff" />
<rect x="438" y="284" width="1" height="1" fill="#fff" />
<rect x="446" y="284" width="1" height="1" fill="#fff" />
<rect x="455" y="284" width="1" height="1" fill="#fff" />
<rect x="463" y="284" width="1" height="1" fill="#fff" />
<rect x="471" y="284" width="1" height="1" fill="#fff" />
<rect x="479" y="284" width="1" height="1" fill="#fff" />
<rect x="487" y="284" width="1" height="1" fill="#fff" />
<rect x="496" y="284" width="1" height="1" fill="#fff" />
<rect x="504" y="284" width="1" height="1" fill="#fff" />
<rect x="512" y="284" width="1" height="1" fill="#fff" />
<rect x="520" y="284" width="1" height="1" fill="#fff" />
<rect x="528" y="284" width="1" height="1" fill="#fff" />
<rect x="391" y="221" width="57" height="21" rx="3" fill="#000"/>
<rect x="393" y="223" width="53" height="14" rx="2" fill="#fff"/>
<text x="419" y="235" font-size="15" text-anchor="middle" fill="#000" filter="url(#th)" textLength="47.2" lengthAdjust="spacingAndGlyphs" >BANK 0</text>
<rect x="391" y="241" width="57" height="21" rx="3" fill="#000"/>
<rect x="393" y="243" width="53" height="14" rx="2" fill="#fff"/>
<text x="419" y="255" font-size="15" text-anchor="middle" fill="#000" filter="url(#th)" textLength="47.2" lengthAdjust="spacingAndGlyphs" >BANK 1</text>
<rect x="391" y="261" width="57" height="21" rx="3" fill="#000"/>
<rect x="393" y="263" width="53" height="14" rx="2" fill="#fff"/>
<text x="419" y="275" font-size="15" text-anchor="middle" fill="#000" filter="url(#th)" textLength="47.2" lengthAdjust="spacingAndGlyphs" >BANK 2</text>
<rect x="391" y="281" width="57" height="21" rx="3" fill="#000"/>
<rect x="393" y="283" width="53" height="14" rx="2" fill="#fff"/>
<text x="419" y="295" font-size="15" text-anchor="middle" fill="#000" filter="url(#th)" textLength="47.2" lengthAdjust="spacingAndGlyphs" >BANK 3</text>
<rect x="319" y="307" width="113" height="24" fill="#000" />
<rect x="320" y="308" width="111" height="22" fill="#fff" />
<rect x="320" y="313" width="111" height="2" fill="#000" />
<rect x="321" y="310" width="8" height="4" fill="#000" />
<rect x="322" y="311" width="6" height="2" fill="#fff" />
<rect x="322" y="317" width="7" height="2" fill="#000" />
<rect x="329" y="313" width="1" height="2" fill="#fff" />
<rect x="330" y="310" width="8" height="4" fill="#000" />
<rect x="331" y="311" width="6" height="2" fill="#fff" />
<rect x="331" y="317" width="7" height="2" fill="#000" />
<rect x="338" y="313" width="1" height="2" fill="#fff" />
<rect x="339" y="310" width="8" height="4" fill="#000" />
<rect x="340" y="311" width="6" height="2" fill="#fff" />
<rect x="340" y="317" width="7" height="2" fill="#000" />
<rect x="347" y="313" width="1" height="2" fill="#fff" />
<rect x="349" y="310" width="8" height="4" fill="#000" />
<rect x="350" y="311" width="6" height="2" fill="#fff" />
<rect x="350" y="317" width="7" height="2" fill="#000" />
<rect x="357" y="313" width="1" height="2" fill="#fff" />
<rect x="358" y="310" width="8" height="4" fill="#000" />
<rect x="359" y="311" width="6" height="2" fill="#fff" />
<rect x="359" y="317" width="7" height="2" fill="#000" />
<rect x="366" y="313" width="1" height="2" fill="#fff" />
<rect x="367" y="310" width="8" height="4" fill="#000" />
<rect x="368" y="311" width="6" height="2" fill="#fff" />
<rect x="368" y="317" width="7" height="2" fill="#000" />
<rect x="375" y="313" width="1" height="2" fill="#fff" />
<rect x="376" y="310" width="8" height="4" fill="#000" />
<rect x="377" y="311" width="6" height="2" fill="#fff" />
<rect x="377" y="317" width="7" height="2" fill="#000" />
<rect x="384" y="313" width="1" height="2" fill="#fff" />
<rect x="385" y="310" width="8" height="4" fill="#000" />
<rect x="386" y="311" width="6" height="2" fill="#fff" />
<rect x="386" y="317" width="7" height="2" fill="#000" />
<rect x="393" y="313" width="1" height="2" fill="#fff" />
<rect x="395" y="310" width="8" height="4" fill="#000" />
<rect x="396" y="311" width="6" height="2" fill="#fff" />
<rect x="396" y="317" width="7" height="2" fill="#000" />
<rect x="403" y="313" width="1" height="2" fill="#fff" />
<rect x="404" y="310" width="8" height="4" fill="#000" />
<rect x="405" y="311" width="6" height="2" fill="#fff" />
<rect x="405" y="317" width="7" height="2" fill="#000" />
<rect x="412" y="313" width="1" height="2" fill="#fff" />
<rect x="413" y="310" width="8" height="4" fill="#000" />
<rect x="414" y="311" width="6" height="2" fill="#fff" />
<rect x="414" y="317" width="7" height="2" fill="#000" />
<rect x="421" y="313" width="1" height="2" fill="#fff" />
<rect x="422" y="310" width="8" height="4" fill="#000" />
<rect x="423" y="311" width="6" height="2" fill="#fff" />
<rect x="423" y="317" width="7" height="2" fill="#000" />
<rect x="430" y="313" width="1" height="2" fill="#fff" />
<rect x="325" y="320" width="7" height="8" fill="#000" />
<rect x="326" y="321" width="5" height="6" fill="#fff" />
<rect x="334" y="320" width="7" height="8" fill="#000" />
<rect x="335" y="321" width="5" height="6" fill="#fff" />
<rect x="343" y="320" width="7" height="8" fill="#000" />
<rect x="344" y="321" width="5" height="6" fill="#fff" />
<rect x="353" y="320" width="7" height="8" fill="#000" />
<rect x="354" y="321" width="5" height="6" fill="#fff" />
<rect x="362" y="320" width="7" height="8" fill="#000" />
<rect x="363" y="321" width="5" height="6" fill="#fff" />
<rect x="371" y="320" width="7" height="8" fill="#000" />
<rect x="372" y="321" width="5" height="6" fill="#fff" />
<rect x="380" y="320" width="7" height="8" fill="#000" />
<rect x="381" y="321" width="5" height="6" fill="#fff" />
<rect x="389" y="320" width="7" height="8" fill="#000" />
<rect x="390" y="321" width="5" height="6" fill="#fff" />
<rect x="399" y="320" width="7" height="8" fill="#000" />
<rect x="400" y="321" width="5" height="6" fill="#fff" />
<rect x="408" y="320" width="7" height="8" fill="#000" />
<rect x="409" y="321" width="5" height="6" fill="#fff" />
<rect x="417" y="320" width="7" height="8" fill="#000" />
<rect x="418" y="321" width="5" height="6" fill="#fff" />
<rect x="319" y="321" width="3" height="7" fill="#000" />
<rect x="319" y="322" width="2" height="5" fill="#fff" />
<rect x="429" y="321" width="3" height="7" fill="#000" />
<rect x="430" y="322" width="2" height="5" fill="#fff" />
<rect x="484" y="317" width="79" height="13" fill="#000" />
<rect x="485" y="318" width="77" height="11" fill="#fff" />
<rect x="485" y="318" width="77" height="4" fill="#000" />
<rect x="486" y="324" width="76" height="4" fill="#000" />
<rect x="485" y="318" width="1" height="4" fill="#fff" />
<rect x="485" y="324" width="1" height="4" fill="#fff" />
<rect x="491" y="318" width="1" height="4" fill="#fff" />
<rect x="491" y="324" width="1" height="4" fill="#fff" />
<rect x="497" y="318" width="1" height="4" fill="#fff" />
<rect x="497" y="324" width="1" height="4" fill="#fff" />
<rect x="503" y="318" width="1" height="4" fill="#fff" />
<rect x="503" y="324" width="1" height="4" fill="#fff" />
<rect x="509" y="318" width="1" height="4" fill="#fff" />
<rect x="509" y="324" width="1" height="4" fill="#fff" />
<rect x="515" y="318" width="1" height="4" fill="#fff" />
<rect x="515" y="324" width="1" height="4" fill="#fff" />
<rect x="521" y="318" width="1" height="4" fill="#fff" />
<rect x="521" y="324" width="1" height="4" fill="#fff" />
<rect x="527" y="318" width="1" height="4" fill="#fff" />
<rect x="527" y="324" width="1" height="4" fill="#fff" />
<rect x="532" y="318" width="1" height="4" fill="#fff" />
<rect x="532" y="324" width="1" height="4" fill="#fff" />
<rect x="538" y="318" width="1" height="4" fill="#fff" />
<rect x="538" y="324" width="1" height="4" fill="#fff" />
<rect x="544" y="318" width="1" height="4" fill="#fff" />
<rect x="544" y="324" width="1" height="4" fill="#fff" />
<rect x="550" y="318" width="1" height="4" fill="#fff" />
<rect x="550" y="324" width="1" height="4" fill="#fff" />
<rect x="556" y="318" width="1" height="4" fill="#fff" />
<rect x="556" y="324" width="1" height="4" fill="#fff" />
<rect x="561" y="318" width="1" height="10" fill="#fff" />
<rect x="487" y="325" width="3" height="2" fill="#fff" />
<polygon points="501.00,351.00 557.00,351.00 564.00,355.00 564.00,410.00 560.00,417.00 503.00,417.00 497.00,413.00 497.00,357.00" fill="#000" stroke="none" stroke-width="1" />
<rect x="509" y="351" width="1" height="3" fill="#fff" />
<rect x="511" y="351" width="1" height="3" fill="#fff" />
<rect x="514" y="351" width="1" height="3" fill="#fff" />
<rect x="517" y="351" width="1" height="3" fill="#fff" />
<rect x="526" y="351" width="1" height="3" fill="#fff" />
<rect x="528" y="351" width="1" height="3" fill="#fff" />
<rect x="531" y="351" width="1" height="3" fill="#fff" />
<rect x="542" y="351" width="1" height="3" fill="#fff" />
<rect x="545" y="351" width="1" height="3" fill="#fff" />
<rect x="548" y="351" width="1" height="3" fill="#fff" />
<rect x="551" y="351" width="1" height="3" fill="#fff" />
<rect x="513" y="414" width="1" height="3" fill="#fff" />
<rect x="517" y="414" width="1" height="3" fill="#fff" />
<rect x="520" y="414" width="1" height="3" fill="#fff" />
<rect x="522" y="414" width="1" height="3" fill="#fff" />
<rect x="530" y="414" width="1" height="3" fill="#fff" />
<rect x="533" y="414" width="1" height="3" fill="#fff" />
<rect x="536" y="414" width="1" height="3" fill="#fff" />
<rect x="551" y="414" width="1" height="3" fill="#fff" />
<rect x="554" y="414" width="1" height="3" fill="#fff" />
<rect x="557" y="414" width="1" height="3" fill="#fff" />
<rect x="497" y="358" width="3" height="1" fill="#fff" />
<rect x="497" y="360" width="3" height="1" fill="#fff" />
<rect x="497" y="363" width="3" height="1" fill="#fff" />
<rect x="497" y="365" width="3" height="1" fill="#fff" />
<rect x="497" y="377" width="3" height="1" fill="#fff" />
<rect x="497" y="379" width="3" height="1" fill="#fff" />
<rect x="497" y="382" width="3" height="1" fill="#fff" />
<rect x="497" y="385" width="3" height="1" fill="#fff" />
<rect x="497" y="393" width="3" height="1" fill="#fff" />
<rect x="497" y="396" width="3" height="1" fill="#fff" />
<rect x="497" y="399" width="3" height="1" fill="#fff" />
<rect x="561" y="385" width="3" height="1" fill="#fff" />
<rect x="561" y="388" width="3" height="1" fill="#fff" />
<rect x="561" y="390" width="3" height="1" fill="#fff" />
<rect x="561" y="403" width="3" height="1" fill="#fff" />
<rect x="561" y="405" width="3" height="1" fill="#fff" />
<rect x="561" y="408" width="3" height="1" fill="#fff" />
<rect x="561" y="410" width="3" height="1" fill="#fff" />
<rect x="608" y="355" width="7" height="68" fill="#000" />
<rect x="580" y="366" width="28" height="45" fill="#000" />
<rect x="606" y="358" width="3" height="7" fill="#000" />
<rect x="607" y="359" width="1" height="5" fill="#fff" />
<rect x="614" y="358" width="11" height="7" fill="#000" />
<rect x="615" y="359" width="9" height="5" fill="#fff" />
<rect x="608" y="358" width="7" height="7" fill="#000" />
<rect x="606" y="412" width="3" height="7" fill="#000" />
<rect x="607" y="413" width="1" height="5" fill="#fff" />
<rect x="614" y="412" width="11" height="7" fill="#000" />
<rect x="615" y="413" width="9" height="5" fill="#fff" />
<rect x="608" y="412" width="7" height="7" fill="#000" />
<rect x="614.5" y="367.5" width="16" height="41" rx="2" fill="#fff" stroke="#000" stroke-width="1"/>
<rect x="614" y="367" width="2" height="42" fill="#000" />
<rect x="608" y="424" width="7" height="67" fill="#000" />
<rect x="580" y="434" width="28" height="45" fill="#000" />
<rect x="606" y="427" width="3" height="6" fill="#000" />
<rect x="607" y="428" width="1" height="4" fill="#fff" />
<rect x="614" y="427" width="11" height="6" fill="#000" />
<rect x="615" y="428" width="9" height="4" fill="#fff" />
<rect x="608" y="427" width="7" height="6" fill="#000" />
<rect x="606" y="481" width="3" height="6" fill="#000" />
<rect x="607" y="482" width="1" height="4" fill="#fff" />
<rect x="614" y="481" width="11" height="6" fill="#000" />
<rect x="615" y="482" width="9" height="4" fill="#fff" />
<rect x="608" y="481" width="7" height="6" fill="#000" />
<rect x="614.5" y="434.5" width="16" height="43" rx="2" fill="#fff" stroke="#000" stroke-width="1"/>
<rect x="614" y="434" width="2" height="44" fill="#000" />
<rect x="575" y="502" width="34" height="40" fill="#000" />
<rect x="576" y="503" width="32" height="38" fill="#fff" />
<rect x="608" y="502" width="7" height="40" fill="#000" />
<rect x="608" y="549" width="8" height="112" fill="#000" />
<rect x="584" y="560" width="24" height="91" fill="#000" />
<rect x="604" y="551" width="5" height="6" fill="#000" />
<rect x="605" y="552" width="3" height="4" fill="#fff" />
<rect x="613" y="551" width="10" height="6" fill="#000" />
<rect x="614" y="552" width="8" height="4" fill="#fff" />
<rect x="608" y="551" width="4" height="6" fill="#000" />
<rect x="613" y="551" width="1" height="6" fill="#000" />
<rect x="604" y="654" width="5" height="6" fill="#000" />
<rect x="605" y="655" width="3" height="4" fill="#fff" />
<rect x="613" y="654" width="10" height="6" fill="#000" />
<rect x="614" y="655" width="8" height="4" fill="#fff" />
<rect x="608" y="654" width="4" height="6" fill="#000" />
<rect x="613" y="654" width="1" height="6" fill="#000" />
<rect x="613" y="560" width="15" height="91" fill="#000" />
<rect x="614" y="561" width="13" height="89" fill="#fff" />
<rect x="612" y="550" width="1" height="110" fill="#fff" />
<rect x="608" y="665" width="7" height="67" fill="#000" />
<rect x="580" y="676" width="28" height="44" fill="#000" />
<rect x="606" y="668" width="3" height="6" fill="#000" />
<rect x="607" y="669" width="1" height="4" fill="#fff" />
<rect x="614" y="668" width="11" height="6" fill="#000" />
<rect x="615" y="669" width="9" height="4" fill="#fff" />
<rect x="608" y="668" width="7" height="6" fill="#000" />
<rect x="606" y="722" width="3" height="6" fill="#000" />
<rect x="607" y="723" width="1" height="4" fill="#fff" />
<rect x="614" y="722" width="11" height="6" fill="#000" />
<rect x="615" y="723" width="9" height="4" fill="#fff" />
<rect x="608" y="722" width="7" height="6" fill="#000" />
<rect x="614.5" y="677.5" width="16" height="41" rx="2" fill="#fff" stroke="#000" stroke-width="1"/>
<rect x="614" y="677" width="2" height="42" fill="#000" />
<rect x="611" y="743" width="5" height="51" fill="#000" />
<rect x="608" y="745" width="8" height="46" fill="#000" />
<rect x="584" y="750" width="32" height="37" fill="#000" />
<rect x="577" y="758" width="5" height="9" fill="#000" />
<rect x="578" y="759" width="3" height="7" fill="#fff" />
<rect x="577" y="770" width="5" height="9" fill="#000" />
<rect x="578" y="771" width="3" height="7" fill="#fff" />
<rect x="581" y="756" width="4" height="25" fill="#000" />
<rect x="582" y="757" width="2" height="23" fill="#fff" />
<rect x="582" y="760" width="1" height="1" fill="#000" />
<rect x="582" y="762" width="1" height="1" fill="#000" />
<rect x="582" y="764" width="1" height="1" fill="#000" />
<rect x="582" y="773" width="1" height="1" fill="#000" />
<rect x="582" y="775" width="1" height="1" fill="#000" />
<rect x="582" y="777" width="1" height="1" fill="#000" />
<rect x="581" y="767" width="4" height="3" fill="#000" />
<rect x="582" y="767" width="2" height="2" fill="#fff" />
<rect x="355" y="390" width="61" height="24" fill="#000" />
<rect x="355" y="401" width="2" height="2" fill="#fff" />
<rect x="355" y="417" width="61" height="49" fill="#000" />
<rect x="358" y="418" width="3" height="5" fill="#fff" />
<rect x="364" y="418" width="3" height="5" fill="#fff" />
<rect x="370" y="418" width="3" height="5" fill="#fff" />
<rect x="375" y="418" width="3" height="5" fill="#fff" />
<rect x="381" y="418" width="3" height="5" fill="#fff" />
<rect x="387" y="418" width="3" height="5" fill="#fff" />
<rect x="393" y="418" width="3" height="5" fill="#fff" />
<rect x="399" y="418" width="3" height="5" fill="#fff" />
<rect x="404" y="418" width="3" height="5" fill="#fff" />
<rect x="410" y="418" width="3" height="5" fill="#fff" />
<rect x="358" y="434" width="3" height="5" fill="#fff" />
<rect x="364" y="434" width="3" height="5" fill="#fff" />
<rect x="370" y="434" width="3" height="5" fill="#fff" />
<rect x="375" y="434" width="3" height="5" fill="#fff" />
<rect x="381" y="434" width="3" height="5" fill="#fff" />
<rect x="387" y="434" width="3" height="5" fill="#fff" />
<rect x="393" y="434" width="3" height="5" fill="#fff" />
<rect x="399" y="434" width="3" height="5" fill="#fff" />
<rect x="404" y="434" width="3" height="5" fill="#fff" />
<rect x="410" y="434" width="3" height="5" fill="#fff" />
<rect x="358" y="444" width="3" height="5" fill="#fff" />
<rect x="364" y="444" width="3" height="5" fill="#fff" />
<rect x="370" y="444" width="3" height="5" fill="#fff" />
<rect x="375" y="444" width="3" height="5" fill="#fff" />
<rect x="381" y="444" width="3" height="5" fill="#fff" />
<rect x="387" y="444" width="3" height="5" fill="#fff" />
<rect x="393" y="444" width="3" height="5" fill="#fff" />
<rect x="399" y="444" width="3" height="5" fill="#fff" />
<rect x="404" y="444" width="3" height="5" fill="#fff" />
<rect x="410" y="444" width="3" height="5" fill="#fff" />
<rect x="358" y="459" width="3" height="5" fill="#fff" />
<rect x="364" y="459" width="3" height="5" fill="#fff" />
<rect x="370" y="459" width="3" height="5" fill="#fff" />
<rect x="375" y="459" width="3" height="5" fill="#fff" />
<rect x="381" y="459" width="3" height="5" fill="#fff" />
<rect x="387" y="459" width="3" height="5" fill="#fff" />
<rect x="393" y="459" width="3" height="5" fill="#fff" />
<rect x="399" y="459" width="3" height="5" fill="#fff" />
<rect x="404" y="459" width="3" height="5" fill="#fff" />
<rect x="410" y="459" width="3" height="5" fill="#fff" />
<rect x="363" y="426" width="21" height="6" fill="#fff" />
<rect x="390" y="426" width="21" height="6" fill="#fff" />
<rect x="355" y="427" width="2" height="4" fill="#fff" />
<rect x="363" y="452" width="21" height="6" fill="#fff" />
<rect x="390" y="452" width="21" height="6" fill="#fff" />
<rect x="355" y="453" width="2" height="4" fill="#fff" />
<rect x="355" y="441" width="61" height="1" fill="#fff" />
<rect x="420" y="390" width="61" height="24" fill="#000" />
<rect x="420" y="401" width="2" height="2" fill="#fff" />
<rect x="420" y="417" width="61" height="49" fill="#000" />
<rect x="423" y="418" width="3" height="5" fill="#fff" />
<rect x="429" y="418" width="3" height="5" fill="#fff" />
<rect x="435" y="418" width="3" height="5" fill="#fff" />
<rect x="440" y="418" width="3" height="5" fill="#fff" />
<rect x="446" y="418" width="3" height="5" fill="#fff" />
<rect x="452" y="418" width="3" height="5" fill="#fff" />
<rect x="458" y="418" width="3" height="5" fill="#fff" />
<rect x="464" y="418" width="3" height="5" fill="#fff" />
<rect x="469" y="418" width="3" height="5" fill="#fff" />
<rect x="475" y="418" width="3" height="5" fill="#fff" />
<rect x="423" y="434" width="3" height="5" fill="#fff" />
<rect x="429" y="434" width="3" height="5" fill="#fff" />
<rect x="435" y="434" width="3" height="5" fill="#fff" />
<rect x="440" y="434" width="3" height="5" fill="#fff" />
<rect x="446" y="434" width="3" height="5" fill="#fff" />
<rect x="452" y="434" width="3" height="5" fill="#fff" />
<rect x="458" y="434" width="3" height="5" fill="#fff" />
<rect x="464" y="434" width="3" height="5" fill="#fff" />
<rect x="469" y="434" width="3" height="5" fill="#fff" />
<rect x="475" y="434" width="3" height="5" fill="#fff" />
<rect x="423" y="444" width="3" height="5" fill="#fff" />
<rect x="429" y="444" width="3" height="5" fill="#fff" />
<rect x="435" y="444" width="3" height="5" fill="#fff" />
<rect x="440" y="444" width="3" height="5" fill="#fff" />
<rect x="446" y="444" width="3" height="5" fill="#fff" />
<rect x="452" y="444" width="3" height="5" fill="#fff" />
<rect x="458" y="444" width="3" height="5" fill="#fff" />
<rect x="464" y="444" width="3" height="5" fill="#fff" />
<rect x="469" y="444" width="3" height="5" fill="#fff" />
<rect x="475" y="444" width="3" height="5" fill="#fff" />
<rect x="423" y="459" width="3" height="5" fill="#fff" />
<rect x="429" y="459" width="3" height="5" fill="#fff" />
<rect x="435" y="459" width="3" height="5" fill="#fff" />
<rect x="440" y="459" width="3" height="5" fill="#fff" />
<rect x="446" y="459" width="3" height="5" fill="#fff" />
<rect x="452" y="459" width="3" height="5" fill="#fff" />
<rect x="458" y="459" width="3" height="5" fill="#fff" />
<rect x="464" y="459" width="3" height="5" fill="#fff" />
<rect x="469" y="459" width="3" height="5" fill="#fff" />
<rect x="475" y="459" width="3" height="5" fill="#fff" />
<rect x="428" y="426" width="21" height="6" fill="#fff" />
<rect x="455" y="426" width="21" height="6" fill="#fff" />
<rect x="420" y="427" width="2" height="4" fill="#fff" />
<rect x="428" y="452" width="21" height="6" fill="#fff" />
<rect x="455" y="452" width="21" height="6" fill="#fff" />
<rect x="420" y="453" width="2" height="4" fill="#fff" />
<rect x="420" y="441" width="61" height="1" fill="#fff" />
<rect x="416" y="417" width="4" height="49" fill="#fff" />
<rect x="398.5" y="434.5" width="38" height="14" rx="2" fill="#fff" stroke="#000" stroke-width="1"/>
<text x="417.5" y="446.5" font-size="14" text-anchor="middle" fill="#000" filter="url(#th)" textLength="34" lengthAdjust="spacingAndGlyphs" >VRAM</text>
<rect x="291" y="442" width="49" height="27" fill="#000" />
<rect x="293" y="444" width="45" height="23" rx="2" fill="#fff"/>
<rect x="259" y="475" width="13" height="100" fill="#000" />
<rect x="260" y="476" width="11" height="98" fill="#fff" />
<rect x="260" y="476" width="5" height="5" fill="#000" />
<rect x="266" y="476" width="4" height="5" fill="#000" />
<rect x="260" y="482" width="5" height="5" fill="#000" />
<rect x="266" y="482" width="4" height="5" fill="#000" />
<rect x="260" y="488" width="5" height="5" fill="#000" />
<rect x="266" y="488" width="4" height="5" fill="#000" />
<rect x="260" y="493" width="5" height="5" fill="#000" />
<rect x="266" y="493" width="4" height="5" fill="#000" />
<rect x="260" y="499" width="5" height="5" fill="#000" />
<rect x="266" y="499" width="4" height="5" fill="#000" />
<rect x="260" y="505" width="5" height="5" fill="#000" />
<rect x="266" y="505" width="4" height="5" fill="#000" />
<rect x="260" y="511" width="5" height="5" fill="#000" />
<rect x="266" y="511" width="4" height="5" fill="#000" />
<rect x="260" y="517" width="5" height="5" fill="#000" />
<rect x="266" y="517" width="4" height="5" fill="#000" />
<rect x="260" y="523" width="5" height="5" fill="#000" />
<rect x="266" y="523" width="4" height="5" fill="#000" />
<rect x="260" y="528" width="5" height="5" fill="#000" />
<rect x="266" y="528" width="4" height="5" fill="#000" />
<rect x="260" y="534" width="5" height="5" fill="#000" />
<rect x="266" y="534" width="4" height="5" fill="#000" />
<rect x="260" y="540" width="5" height="5" fill="#000" />
<rect x="266" y="540" width="4" height="5" fill="#000" />
<rect x="260" y="546" width="5" height="5" fill="#000" />
<rect x="266" y="546" width="4" height="5" fill="#000" />
<rect x="260" y="552" width="5" height="5" fill="#000" />
<rect x="266" y="552" width="4" height="5" fill="#000" />
<rect x="260" y="558" width="5" height="5" fill="#000" />
<rect x="266" y="558" width="4" height="5" fill="#000" />
<rect x="260" y="564" width="5" height="5" fill="#000" />
<rect x="266" y="564" width="4" height="5" fill="#000" />
<rect x="260" y="569" width="5" height="5" fill="#000" />
<rect x="266" y="569" width="4" height="5" fill="#000" />
<rect x="260" y="476" width="0" height="98" fill="#000" />
<rect x="261" y="477" width="2" height="2" fill="#fff" />
<rect x="259" y="475" width="13" height="1" fill="#000" />
<rect x="259" y="602" width="13" height="119" fill="#000" />
<rect x="260" y="603" width="11" height="117" fill="#fff" />
<rect x="261" y="604" width="4" height="4" fill="#000" />
<rect x="266" y="604" width="4" height="4" fill="#000" />
<rect x="261" y="610" width="4" height="4" fill="#000" />
<rect x="266" y="610" width="4" height="4" fill="#000" />
<rect x="261" y="616" width="4" height="4" fill="#000" />
<rect x="266" y="616" width="4" height="4" fill="#000" />
<rect x="261" y="622" width="4" height="4" fill="#000" />
<rect x="266" y="622" width="4" height="4" fill="#000" />
<rect x="261" y="627" width="4" height="4" fill="#000" />
<rect x="266" y="627" width="4" height="4" fill="#000" />
<rect x="261" y="633" width="4" height="4" fill="#000" />
<rect x="266" y="633" width="4" height="4" fill="#000" />
<rect x="261" y="639" width="4" height="4" fill="#000" />
<rect x="266" y="639" width="4" height="4" fill="#000" />
<rect x="261" y="645" width="4" height="4" fill="#000" />
<rect x="266" y="645" width="4" height="4" fill="#000" />
<rect x="261" y="651" width="4" height="4" fill="#000" />
<rect x="266" y="651" width="4" height="4" fill="#000" />
<rect x="261" y="657" width="4" height="4" fill="#000" />
<rect x="266" y="657" width="4" height="4" fill="#000" />
<rect x="261" y="662" width="4" height="4" fill="#000" />
<rect x="266" y="662" width="4" height="4" fill="#000" />
<rect x="261" y="668" width="4" height="4" fill="#000" />
<rect x="266" y="668" width="4" height="4" fill="#000" />
<rect x="261" y="674" width="4" height="4" fill="#000" />
<rect x="266" y="674" width="4" height="4" fill="#000" />
<rect x="261" y="680" width="4" height="4" fill="#000" />
<rect x="266" y="680" width="4" height="4" fill="#000" />
<rect x="261" y="686" width="4" height="4" fill="#000" />
<rect x="266" y="686" width="4" height="4" fill="#000" />
<rect x="261" y="692" width="4" height="4" fill="#000" />
<rect x="266" y="692" width="4" height="4" fill="#000" />
<rect x="261" y="698" width="4" height="4" fill="#000" />
<rect x="266" y="698" width="4" height="4" fill="#000" />
<rect x="261" y="703" width="4" height="4" fill="#000" />
<rect x="266" y="703" width="4" height="4" fill="#000" />
<rect x="261" y="709" width="4" height="4" fill="#000" />
<rect x="266" y="709" width="4" height="4" fill="#000" />
<rect x="261" y="715" width="4" height="4" fill="#000" />
<rect x="266" y="715" width="4" height="4" fill="#000" />
<rect x="262" y="605" width="2" height="2" fill="#fff" />
<rect x="387" y="524" width="24" height="1" fill="#000" />
<rect x="419" y="524" width="24" height="1" fill="#000" />
<rect x="451" y="524" width="24" height="1" fill="#000" />
<rect x="483" y="524" width="24" height="1" fill="#000" />
<rect x="382" y="671" width="13" height="1" fill="#000" />
<rect x="403" y="671" width="24" height="1" fill="#000" />
<rect x="435" y="671" width="24" height="1" fill="#000" />
<rect x="467" y="671" width="24" height="1" fill="#000" />
<rect x="499" y="671" width="11" height="1" fill="#000" />
<rect x="382" y="528" width="1" height="23" fill="#000" />
<rect x="382" y="560" width="1" height="23" fill="#000" />
<rect x="382" y="592" width="1" height="23" fill="#000" />
<rect x="382" y="624" width="1" height="23" fill="#000" />
<rect x="382" y="656" width="1" height="16" fill="#000" />
<rect x="509" y="530" width="1" height="24" fill="#000" />
<rect x="509" y="562" width="1" height="24" fill="#000" />
<rect x="509" y="594" width="1" height="24" fill="#000" />
<rect x="509" y="626" width="1" height="24" fill="#000" />
<rect x="509" y="657" width="1" height="15" fill="#000" />
<rect x="386" y="528" width="120" height="14" fill="#000" />
<rect x="394" y="530" width="1" height="10" fill="#fff" />
<rect x="400" y="530" width="1" height="10" fill="#fff" />
<rect x="405" y="530" width="1" height="10" fill="#fff" />
<rect x="411" y="530" width="1" height="10" fill="#fff" />
<rect x="417" y="530" width="1" height="10" fill="#fff" />
<rect x="422" y="530" width="1" height="10" fill="#fff" />
<rect x="428" y="530" width="1" height="10" fill="#fff" />
<rect x="468" y="530" width="1" height="10" fill="#fff" />
<rect x="474" y="530" width="1" height="10" fill="#fff" />
<rect x="480" y="530" width="1" height="10" fill="#fff" />
<rect x="485" y="530" width="1" height="10" fill="#fff" />
<rect x="491" y="530" width="1" height="10" fill="#fff" />
<rect x="497" y="530" width="1" height="10" fill="#fff" />
<rect x="502" y="530" width="1" height="10" fill="#fff" />
<rect x="508" y="530" width="1" height="10" fill="#fff" />
<rect x="388" y="535" width="3" height="3" fill="#fff" />
<rect x="386" y="654" width="120" height="14" fill="#000" />
<rect x="388" y="656" width="1" height="10" fill="#fff" />
<rect x="388" y="665" width="117" height="1" fill="#fff" />
<rect x="389" y="660" width="116" height="1" fill="#fff" />
<rect x="394" y="656" width="1" height="9" fill="#fff" />
<rect x="400" y="656" width="1" height="9" fill="#fff" />
<rect x="406" y="656" width="1" height="9" fill="#fff" />
<rect x="412" y="656" width="1" height="9" fill="#fff" />
<rect x="418" y="656" width="1" height="9" fill="#fff" />
<rect x="424" y="656" width="1" height="9" fill="#fff" />
<rect x="430" y="656" width="1" height="9" fill="#fff" />
<rect x="436" y="656" width="1" height="9" fill="#fff" />
<rect x="442" y="656" width="1" height="9" fill="#fff" />
<rect x="447" y="656" width="1" height="9" fill="#fff" />
<rect x="453" y="656" width="1" height="9" fill="#fff" />
<rect x="459" y="656" width="1" height="9" fill="#fff" />
<rect x="465" y="656" width="1" height="9" fill="#fff" />
<rect x="471" y="656" width="1" height="9" fill="#fff" />
<rect x="477" y="656" width="1" height="9" fill="#fff" />
<rect x="483" y="656" width="1" height="9" fill="#fff" />
<rect x="489" y="656" width="1" height="9" fill="#fff" />
<rect x="495" y="656" width="1" height="9" fill="#fff" />
<rect x="500" y="656" width="1" height="9" fill="#fff" />
<rect x="390" y="662" width="3" height="2" fill="#fff" />
<rect x="364" y="575" width="14" height="44" fill="#000" />
<rect x="371" y="580" width="1" height="37" fill="#fff" />
<rect x="366" y="582" width="11" height="1" fill="#fff" />
<rect x="366" y="588" width="11" height="1" fill="#fff" />
<rect x="366" y="594" width="11" height="1" fill="#fff" />
<rect x="366" y="599" width="11" height="1" fill="#fff" />
<rect x="366" y="605" width="11" height="1" fill="#fff" />
<rect x="366" y="611" width="11" height="1" fill="#fff" />
<rect x="366" y="617" width="11" height="1" fill="#fff" />
<rect x="366" y="577" width="4" height="1" fill="#fff" />
<rect x="372" y="577" width="4" height="1" fill="#fff" />
<rect x="367" y="579" width="3" height="2" fill="#fff" />
<rect x="415" y="674" width="14" height="7" fill="#000" />
<rect x="416" y="675" width="1" height="5" fill="#fff" />
<rect x="421" y="675" width="2" height="5" fill="#fff" />
<rect x="427" y="675" width="1" height="5" fill="#fff" />
<rect x="256" y="760" width="31" height="13" fill="#000" />
<rect x="257" y="761" width="29" height="11" fill="#fff" />
<rect x="258" y="762" width="4" height="4" fill="#000" />
<rect x="258" y="767" width="4" height="4" fill="#000" />
<rect x="264" y="762" width="4" height="4" fill="#000" />
<rect x="264" y="767" width="4" height="4" fill="#000" />
<rect x="270" y="762" width="4" height="4" fill="#000" />
<rect x="270" y="767" width="4" height="4" fill="#000" />
<rect x="276" y="762" width="4" height="4" fill="#000" />
<rect x="282" y="762" width="4" height="4" fill="#000" />
<rect x="282" y="767" width="4" height="4" fill="#000" />
<rect x="256" y="785" width="26" height="7" fill="#000" />
<rect x="257" y="786" width="24" height="5" fill="#fff" />
<rect x="258" y="787" width="5" height="4" fill="#000" />
<rect x="264" y="787" width="5" height="4" fill="#000" />
<rect x="270" y="787" width="5" height="4" fill="#000" />
<rect x="276" y="787" width="5" height="4" fill="#000" />
<rect x="259" y="788" width="3" height="2" fill="#fff" />
<circle cx="387.5" cy="788" r="14" fill="#000"/>
<circle cx="388" cy="788" r="3" fill="#fff"/>
<circle cx="478.5" cy="785" r="23" fill="none" stroke="#000" stroke-width="1"/>
<rect x="471" y="747" width="16" height="17" fill="#000" />
<path d="M475.5 748 V797 Q475.5 801 478.5 801 Q481.5 801 481.5 797 V748 Z" fill="#fff" stroke="#000" stroke-width="1"/>
<rect x="476" y="789" width="5" height="2" fill="#000" />
<rect x="74" y="5" width="25" height="19" rx="3" fill="#000"/>
<rect x="77" y="7" width="20" height="14" rx="2" fill="#fff"/>
<text x="87.0" y="18" font-size="15" text-anchor="middle" fill="#000" filter="url(#th)" textLength="15.0" lengthAdjust="spacingAndGlyphs" >E2</text>
<polyline points="75,20 67,31 78,23" fill="none" stroke="#000" stroke-width="2.5" stroke-linejoin="bevel"/>
<polygon points="74.08,22.57 70.48,27.52 75.43,23.92" fill="#fff" stroke="none" stroke-width="1" />
<rect x="50" y="40" width="25" height="19" rx="3" fill="#000"/>
<rect x="52" y="42" width="20" height="14" rx="2" fill="#fff"/>
<text x="61.5" y="54" font-size="15" text-anchor="middle" fill="#000" filter="url(#th)" textLength="15.0" lengthAdjust="spacingAndGlyphs" >E1</text>
<polyline points="51,45 43,33 54,42" fill="none" stroke="#000" stroke-width="2.5" stroke-linejoin="bevel"/>
<polygon points="50.08,42.25 46.48,36.85 51.43,40.90" fill="#fff" stroke="none" stroke-width="1" />
<rect x="101" y="32" width="34" height="19" rx="3" fill="#000"/>
<rect x="103" y="35" width="30" height="13" rx="2" fill="#fff"/>
<text x="117.0" y="46" font-size="15" text-anchor="middle" fill="#000" filter="url(#th)" textLength="26.0" lengthAdjust="spacingAndGlyphs" >SW1</text>
<polyline points="114,49 116,68 121,49" fill="none" stroke="#000" stroke-width="2.5" stroke-linejoin="bevel"/>
<polygon points="115.65,52.48 116.55,61.03 118.80,52.48" fill="#fff" stroke="none" stroke-width="1" />
<rect x="8" y="96" width="33" height="19" rx="3" fill="#000"/>
<rect x="10" y="98" width="28" height="14" rx="2" fill="#fff"/>
<text x="23.0" y="109" font-size="15" text-anchor="middle" fill="#000" filter="url(#th)" textLength="22.5" lengthAdjust="spacingAndGlyphs" >J28</text>
<polyline points="22,98 25,79 29,98" fill="none" stroke="#000" stroke-width="2.5" stroke-linejoin="bevel"/>
<polygon points="23.83,94.52 25.18,85.97 26.98,94.52" fill="#fff" stroke="none" stroke-width="1" />
<rect x="50" y="88" width="42" height="18" rx="3" fill="#000"/>
<rect x="53" y="90" width="37" height="13" rx="2" fill="#fff"/>
<text x="70.5" y="101" font-size="15" text-anchor="middle" fill="#000" filter="url(#th)" textLength="30.0" lengthAdjust="spacingAndGlyphs" >J100</text>
<polyline points="51,92 44,79 54,89" fill="none" stroke="#000" stroke-width="2.5" stroke-linejoin="bevel"/>
<polygon points="50.27,89.07 47.12,83.22 51.62,87.72" fill="#fff" stroke="none" stroke-width="1" />
<rect x="33" y="177" width="34" height="19" rx="3" fill="#000"/>
<rect x="36" y="179" width="29" height="14" rx="2" fill="#fff"/>
<text x="49.5" y="190" font-size="15" text-anchor="middle" fill="#000" filter="url(#th)" textLength="22.5" lengthAdjust="spacingAndGlyphs" >J52</text>
<polyline points="46,194 49,212 53,194" fill="none" stroke="#000" stroke-width="2.5" stroke-linejoin="bevel"/>
<polygon points="47.83,197.30 49.18,205.40 50.98,197.30" fill="#fff" stroke="none" stroke-width="1" />
<rect x="81" y="246" width="35" height="19" rx="3" fill="#000"/>
<rect x="84" y="248" width="30" height="15" rx="2" fill="#fff"/>
<text x="98.0" y="259" font-size="15" text-anchor="middle" fill="#000" filter="url(#th)" textLength="22.5" lengthAdjust="spacingAndGlyphs" >J50</text>
<polyline points="82,260 75,272 85,263" fill="none" stroke="#000" stroke-width="2.5" stroke-linejoin="bevel"/>
<polygon points="81.27,262.75 78.12,268.15 82.62,264.10" fill="#fff" stroke="none" stroke-width="1" />
<rect x="99" y="315" width="35" height="19" rx="3" fill="#000"/>
<rect x="101" y="317" width="30" height="14" rx="2" fill="#fff"/>
<text x="115.0" y="328" font-size="15" text-anchor="middle" fill="#000" filter="url(#th)" textLength="22.5" lengthAdjust="spacingAndGlyphs" >J51</text>
<polyline points="129,332 138,341 132,330" fill="none" stroke="#000" stroke-width="2.5" stroke-linejoin="bevel"/>
<polygon points="131.20,333.28 135.25,337.33 132.55,332.38" fill="#fff" stroke="none" stroke-width="1" />
<rect x="215" y="355" width="36" height="19" rx="3" fill="#000"/>
<rect x="218" y="357" width="31" height="14" rx="2" fill="#fff"/>
<text x="232.5" y="368" font-size="15" text-anchor="middle" fill="#000" filter="url(#th)" textLength="22.5" lengthAdjust="spacingAndGlyphs" >J53</text>
<polyline points="217,360 199,364 217,369" fill="none" stroke="#000" stroke-width="2.5" stroke-linejoin="bevel"/>
<polygon points="213.70,362.38 205.60,364.18 213.70,366.43" fill="#fff" stroke="none" stroke-width="1" />
<rect x="342" y="199" width="26" height="19" rx="3" fill="#000"/>
<rect x="345" y="201" width="21" height="14" rx="2" fill="#fff"/>
<text x="354.5" y="212" font-size="15" text-anchor="middle" fill="#000" filter="url(#th)" textLength="15.0" lengthAdjust="spacingAndGlyphs" >E5</text>
<polyline points="344,204 327,208 344,212" fill="none" stroke="#000" stroke-width="2.5" stroke-linejoin="bevel"/>
<polygon points="340.88,206.20 333.23,208.00 340.88,209.80" fill="#fff" stroke="none" stroke-width="1" />
<rect x="444" y="329" width="33" height="19" rx="3" fill="#000"/>
<rect x="446" y="331" width="28" height="14" rx="2" fill="#fff"/>
<text x="459.0" y="342" font-size="15" text-anchor="middle" fill="#000" filter="url(#th)" textLength="22.5" lengthAdjust="spacingAndGlyphs" >J19</text>
<polyline points="473,333 484,322 476,336" fill="none" stroke="#000" stroke-width="2.5" stroke-linejoin="bevel"/>
<polygon points="475.57,331.53 480.52,326.58 476.92,332.88" fill="#fff" stroke="none" stroke-width="1" />
<rect x="540" y="363" width="33" height="18" rx="3" fill="#000"/>
<rect x="542" y="365" width="28" height="13" rx="2" fill="#fff"/>
<text x="555.0" y="376" font-size="15" text-anchor="middle" fill="#000" filter="url(#th)" textLength="22.5" lengthAdjust="spacingAndGlyphs" >J18</text>
<polyline points="568,379 580,389 571,376" fill="none" stroke="#000" stroke-width="2.5" stroke-linejoin="bevel"/>
<polygon points="570.75,380.28 576.15,384.78 572.10,378.93" fill="#fff" stroke="none" stroke-width="1" />
<rect x="538" y="431" width="35" height="19" rx="3" fill="#000"/>
<rect x="540" y="433" width="31" height="15" rx="2" fill="#fff"/>
<text x="554.5" y="444" font-size="15" text-anchor="middle" fill="#000" filter="url(#th)" textLength="22.5" lengthAdjust="spacingAndGlyphs" >J17</text>
<polyline points="569,449 580,457 572,446" fill="none" stroke="#000" stroke-width="2.5" stroke-linejoin="bevel"/>
<polygon points="571.57,449.92 576.52,453.52 572.92,448.57" fill="#fff" stroke="none" stroke-width="1" />
<rect x="533" y="497" width="34" height="18" rx="3" fill="#000"/>
<rect x="535" y="499" width="29" height="13" rx="2" fill="#fff"/>
<text x="548.5" y="510" font-size="15" text-anchor="middle" fill="#000" filter="url(#th)" textLength="22.5" lengthAdjust="spacingAndGlyphs" >J14</text>
<polyline points="563,513 575,522 566,510" fill="none" stroke="#000" stroke-width="2.5" stroke-linejoin="bevel"/>
<polygon points="565.75,514.10 571.15,518.15 567.10,512.75" fill="#fff" stroke="none" stroke-width="1" />
<rect x="543" y="579" width="34" height="18" rx="3" fill="#000"/>
<rect x="545" y="581" width="29" height="13" rx="2" fill="#fff"/>
<text x="558.5" y="592" font-size="15" text-anchor="middle" fill="#000" filter="url(#th)" textLength="22.5" lengthAdjust="spacingAndGlyphs" >J13</text>
<polyline points="573,596 584,603 576,593" fill="none" stroke="#000" stroke-width="2.5" stroke-linejoin="bevel"/>
<polygon points="575.57,596.73 580.52,599.88 576.92,595.38" fill="#fff" stroke="none" stroke-width="1" />
<rect x="538" y="672" width="34" height="18" rx="3" fill="#000"/>
<rect x="540" y="674" width="29" height="13" rx="2" fill="#fff"/>
<text x="553.5" y="685" font-size="15" text-anchor="middle" fill="#000" filter="url(#th)" textLength="22.5" lengthAdjust="spacingAndGlyphs" >J12</text>
<polyline points="568,689 578,697 571,686" fill="none" stroke="#000" stroke-width="2.5" stroke-linejoin="bevel"/>
<polygon points="570.38,689.92 574.88,693.52 571.73,688.57" fill="#fff" stroke="none" stroke-width="1" />
<rect x="279" y="501" width="34" height="18" rx="3" fill="#000"/>
<rect x="281" y="503" width="29" height="13" rx="2" fill="#fff"/>
<text x="294.5" y="514" font-size="15" text-anchor="middle" fill="#000" filter="url(#th)" textLength="22.5" lengthAdjust="spacingAndGlyphs" >J24</text>
<polyline points="280,515 272,526 283,518" fill="none" stroke="#000" stroke-width="2.5" stroke-linejoin="bevel"/>
<polygon points="279.08,517.57 275.48,522.52 280.43,518.92" fill="#fff" stroke="none" stroke-width="1" />
<rect x="280" y="636" width="34" height="19" rx="3" fill="#000"/>
<rect x="282" y="638" width="29" height="14" rx="2" fill="#fff"/>
<text x="295.5" y="649" font-size="15" text-anchor="middle" fill="#000" filter="url(#th)" textLength="22.5" lengthAdjust="spacingAndGlyphs" >J22</text>
<polyline points="281,651 274,660 284,654" fill="none" stroke="#000" stroke-width="2.5" stroke-linejoin="bevel"/>
<polygon points="280.27,653.20 277.12,657.25 281.62,654.55" fill="#fff" stroke="none" stroke-width="1" />
<rect x="322" y="572" width="35" height="19" rx="3" fill="#000"/>
<rect x="324" y="574" width="30" height="14" rx="2" fill="#fff"/>
<text x="338.0" y="586" font-size="15" text-anchor="middle" fill="#000" filter="url(#th)" textLength="22.5" lengthAdjust="spacingAndGlyphs" >J46</text>
<polyline points="352,590 364,597 356,587" fill="none" stroke="#000" stroke-width="2.5" stroke-linejoin="bevel"/>
<polygon points="354.93,590.73 360.33,593.88 356.73,589.38" fill="#fff" stroke="none" stroke-width="1" />
<rect x="383" y="684" width="25" height="19" rx="3" fill="#000"/>
<rect x="385" y="686" width="20" height="14" rx="2" fill="#fff"/>
<text x="394.0" y="697" font-size="15" text-anchor="middle" fill="#000" filter="url(#th)" textLength="15.0" lengthAdjust="spacingAndGlyphs" >E6</text>
<polyline points="403,686 415,677 407,688" fill="none" stroke="#000" stroke-width="2.5" stroke-linejoin="bevel"/>
<polygon points="405.93,684.72 411.33,680.67 407.73,685.62" fill="#fff" stroke="none" stroke-width="1" />
<rect x="278" y="734" width="35" height="18" rx="3" fill="#000"/>
<rect x="280" y="736" width="30" height="13" rx="2" fill="#fff"/>
<text x="294.0" y="747" font-size="15" text-anchor="middle" fill="#000" filter="url(#th)" textLength="22.5" lengthAdjust="spacingAndGlyphs" >J29</text>
<polyline points="279,749 270,760 282,751" fill="none" stroke="#000" stroke-width="2.5" stroke-linejoin="bevel"/>
<polygon points="277.90,751.38 273.85,756.33 279.25,752.28" fill="#fff" stroke="none" stroke-width="1" />
<rect x="289" y="764" width="34" height="19" rx="3" fill="#000"/>
<rect x="291" y="766" width="29" height="14" rx="2" fill="#fff"/>
<text x="304.5" y="777" font-size="15" text-anchor="middle" fill="#000" filter="url(#th)" textLength="22.5" lengthAdjust="spacingAndGlyphs" >J27</text>
<polyline points="290,779 282,789 293,782" fill="none" stroke="#000" stroke-width="2.5" stroke-linejoin="bevel"/>
<polygon points="289.08,781.38 285.48,785.88 290.43,782.73" fill="#fff" stroke="none" stroke-width="1" />
<rect x="431" y="526" width="31" height="19" rx="3" fill="#000"/>
<rect x="433" y="528" width="27" height="14" rx="2" fill="#fff"/>
<text x="445.5" y="540" font-size="15" text-anchor="middle" fill="#000" filter="url(#th)" textLength="22.5" lengthAdjust="spacingAndGlyphs" >J16</text>
<rect x="430" y="651" width="32" height="19" rx="3" fill="#000"/>
<rect x="432" y="653" width="28" height="14" rx="2" fill="#fff"/>
<text x="445.0" y="665" font-size="15" text-anchor="middle" fill="#000" filter="url(#th)" textLength="22.5" lengthAdjust="spacingAndGlyphs" >J15</text>
</svg></body></html>
